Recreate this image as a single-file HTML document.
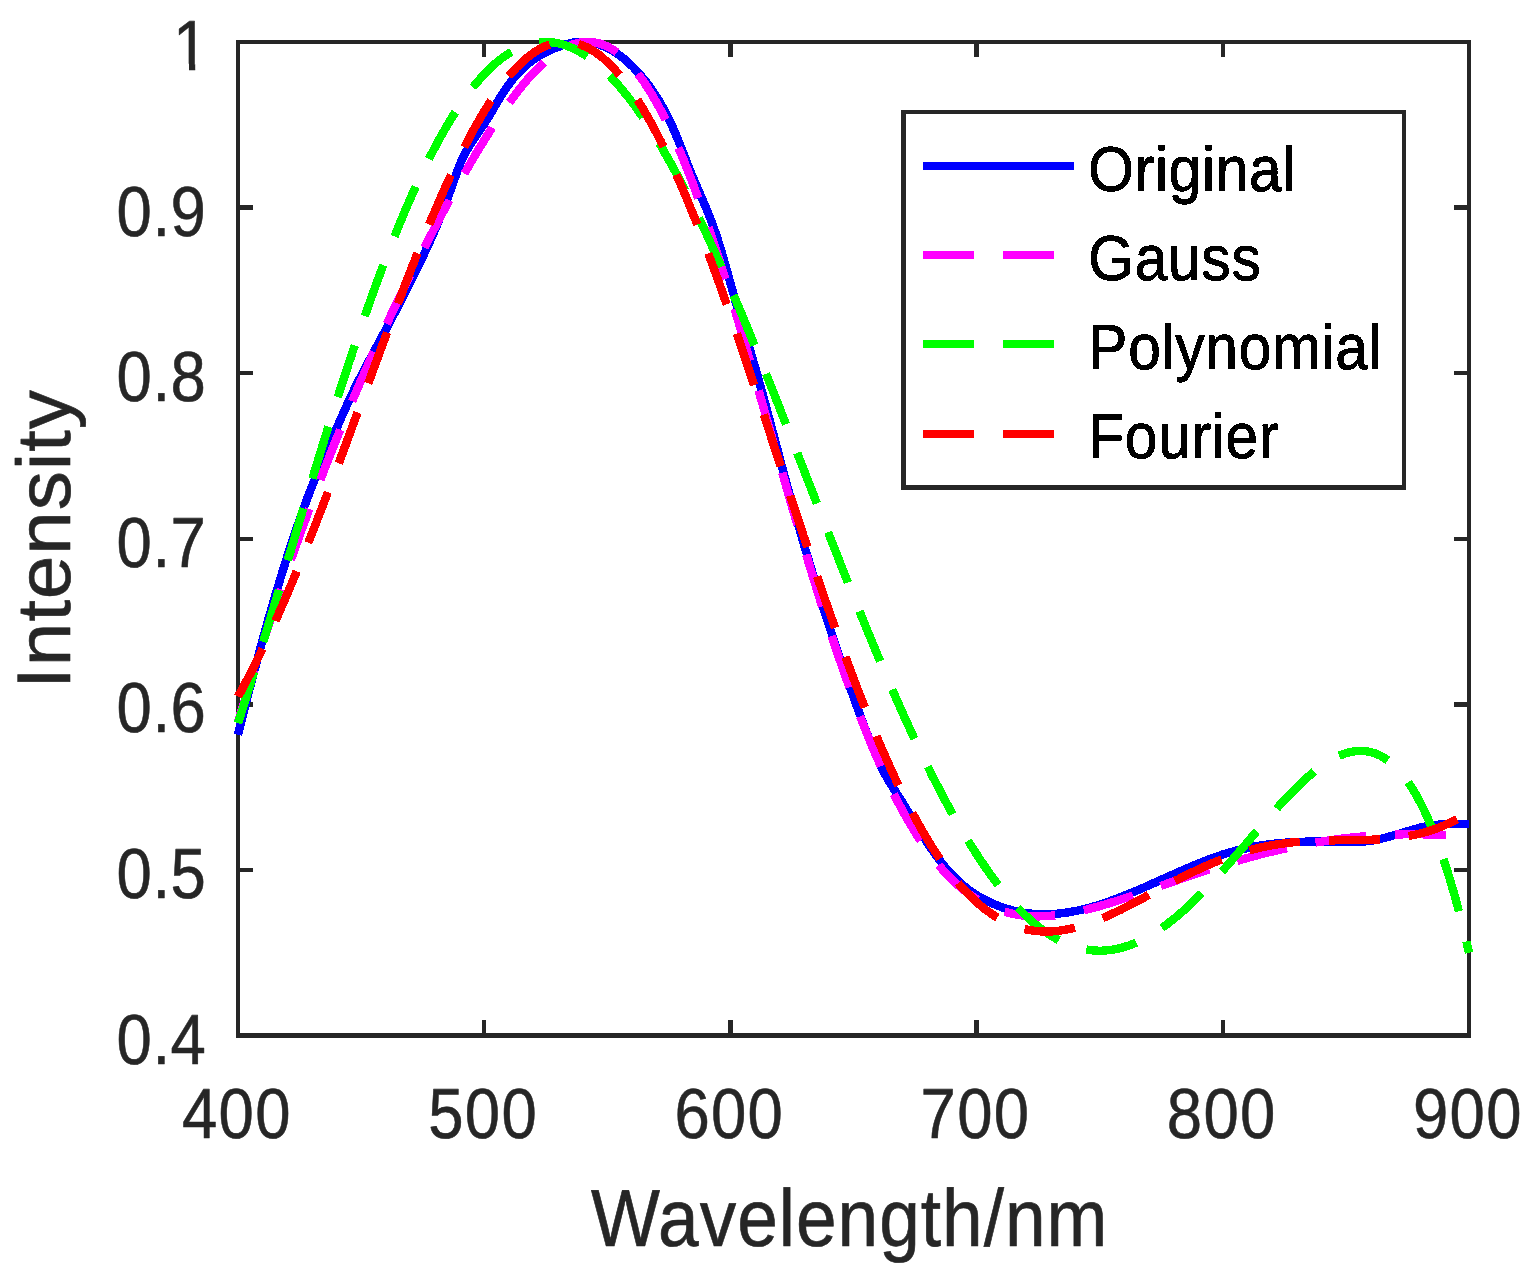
<!DOCTYPE html>
<html lang="en"><head><meta charset="utf-8"><title>Spectrum fitting comparison</title>
<style>html,body{margin:0;padding:0;background:#fff}body{width:1530px;height:1271px;overflow:hidden}svg{display:block}text{font-family:"Liberation Sans",sans-serif}</style>
</head><body>
<svg width="1530" height="1271" viewBox="0 0 1530 1271">
<rect width="1530" height="1271" fill="#fff"/>
<g fill="#262626" shape-rendering="crispEdges">
<rect x="236" y="40" width="1235" height="4"/>
<rect x="236" y="1033" width="1235" height="5"/>
<rect x="236" y="40" width="4" height="998"/>
<rect x="1467" y="40" width="4" height="998"/>
<rect x="482" y="44" width="4" height="13"/>
<rect x="482" y="1020" width="4" height="13"/>
<rect x="728" y="44" width="5" height="13"/>
<rect x="728" y="1020" width="5" height="13"/>
<rect x="974" y="44" width="5" height="13"/>
<rect x="974" y="1020" width="5" height="13"/>
<rect x="1221" y="44" width="4" height="13"/>
<rect x="1221" y="1020" width="4" height="13"/>
<rect x="240" y="205" width="13" height="5"/>
<rect x="1454" y="205" width="13" height="5"/>
<rect x="240" y="371" width="13" height="4"/>
<rect x="1454" y="371" width="13" height="4"/>
<rect x="240" y="537" width="13" height="4"/>
<rect x="1454" y="537" width="13" height="4"/>
<rect x="240" y="702" width="13" height="5"/>
<rect x="1454" y="702" width="13" height="5"/>
<rect x="240" y="868" width="13" height="4"/>
<rect x="1454" y="868" width="13" height="4"/>
</g>
<g stroke="none" shape-rendering="crispEdges">
<path fill="#0000ff" d="M242.1 735.7L242.6 733.8L243.0 731.8L243.5 729.9L244.0 728.0L244.5 726.0L245.0 724.1L245.5 722.1L245.9 720.2L246.4 718.3L246.9 716.3L247.4 714.4L247.9 712.5L248.4 710.5L248.9 708.6L249.4 706.6L249.9 704.7L250.3 702.8L250.8 700.8L251.3 698.9L251.8 697.0L252.3 695.0L252.8 693.1L253.3 691.2L253.8 689.2L254.3 687.3L254.8 685.4L255.3 683.4L255.8 681.5L256.3 679.6L256.9 677.6L257.4 675.7L257.9 673.8L258.4 671.8L258.9 669.9L259.4 668.0L259.9 666.1L260.4 664.1L260.9 662.2L261.5 660.3L262.0 658.3L262.5 656.4L263.0 654.5L263.5 652.6L264.1 650.6L264.6 648.7L265.1 646.8L265.6 644.8L266.2 642.9L266.7 641.0L267.2 639.1L267.8 637.1L268.3 635.2L268.8 633.3L269.4 631.4L269.9 629.5L270.4 627.5L271.0 625.6L271.5 623.7L272.1 621.8L272.6 619.8L273.2 617.9L273.7 616.0L274.3 614.1L274.8 612.2L275.4 610.2L275.9 608.3L276.5 606.4L277.0 604.5L277.6 602.6L278.1 600.7L278.7 598.8L279.3 596.8L279.8 594.9L280.4 593.0L281.0 591.1L281.5 589.2L282.1 587.3L282.7 585.4L283.3 583.5L283.9 581.5L284.4 579.6L285.0 577.7L285.6 575.8L286.2 573.9L286.8 572.0L287.4 570.1L288.0 568.2L288.6 566.3L289.2 564.4L289.8 562.5L290.4 560.6L291.0 558.7L291.6 556.8L292.2 554.9L292.8 553.0L293.4 551.1L294.0 549.2L294.6 547.3L295.3 545.4L295.9 543.5L296.5 541.6L297.1 539.7L297.8 537.8L298.4 536.0L299.1 534.1L299.7 532.2L300.3 530.3L301.0 528.4L301.6 526.5L302.3 524.6L302.9 522.8L303.6 520.9L304.3 519.0L304.9 517.1L305.6 515.2L306.3 513.4L307.0 511.5L307.6 509.6L308.3 507.8L309.0 505.9L309.7 504.0L310.4 502.2L311.1 500.3L311.8 498.4L312.5 496.6L313.2 494.7L313.9 492.9L314.6 491.0L315.4 489.2L316.1 487.3L316.8 485.5L317.6 483.6L318.3 481.8L319.1 479.9L319.8 478.1L320.6 476.2L321.3 474.4L322.1 472.5L322.8 470.7L323.6 468.9L324.4 467.0L325.2 465.2L325.9 463.4L326.7 461.5L327.5 459.7L328.3 457.9L329.1 456.0L329.9 454.2L330.7 452.4L331.5 450.5L332.3 448.7L333.1 446.9L333.9 445.1L334.7 443.2L335.5 441.4L336.3 439.6L337.1 437.7L337.9 435.9L338.7 434.1L339.5 432.3L340.3 430.4L341.1 428.6L341.9 426.8L342.7 424.9L343.5 423.1L344.3 421.3L345.1 419.4L345.9 417.6L346.7 415.8L347.5 413.9L348.4 412.1L349.2 410.3L350.0 408.5L350.8 406.7L351.6 404.9L352.4 403.1L353.2 401.3L354.1 399.5L354.9 397.7L355.8 395.9L356.6 394.1L357.5 392.3L358.4 390.5L359.3 388.7L360.1 386.9L361.0 385.2L361.9 383.4L362.8 381.6L363.7 379.9L364.6 378.1L365.6 376.3L366.5 374.6L367.4 372.8L368.3 371.0L369.3 369.3L370.2 367.5L371.1 365.8L372.1 364.0L373.0 362.2L374.0 360.5L374.9 358.7L375.9 357.0L376.8 355.2L377.8 353.5L378.7 351.7L379.7 349.9L380.6 348.2L381.6 346.4L382.5 344.6L383.5 342.9L384.4 341.1L385.4 339.4L386.3 337.6L387.3 335.8L388.2 334.1L389.1 332.3L390.1 330.5L391.0 328.8L391.9 327.0L392.9 325.2L393.8 323.4L394.8 321.7L395.7 319.9L396.6 318.1L397.5 316.3L398.5 314.6L399.4 312.8L400.3 311.0L401.2 309.2L402.2 307.5L403.1 305.7L404.0 303.9L404.9 302.1L405.8 300.3L406.7 298.6L407.7 296.8L408.6 295.0L409.5 293.2L410.4 291.4L411.3 289.6L412.2 287.8L413.1 286.0L414.0 284.3L414.9 282.5L415.8 280.7L416.7 278.9L417.6 277.1L418.5 275.3L419.4 273.5L420.2 271.7L421.1 269.9L422.0 268.1L422.9 266.3L423.8 264.5L424.6 262.7L425.5 260.9L426.4 259.0L427.2 257.2L428.1 255.4L428.9 253.6L429.8 251.8L430.6 249.9L431.5 248.1L432.3 246.3L433.1 244.5L433.9 242.6L434.8 240.8L435.6 238.9L436.4 237.1L437.2 235.3L438.0 233.4L438.8 231.6L439.6 229.7L440.4 227.9L441.1 226.0L441.9 224.2L442.7 222.3L443.5 220.4L444.2 218.6L445.0 216.7L445.7 214.9L446.5 213.0L447.2 211.1L447.9 209.2L448.7 207.4L449.4 205.5L450.1 203.6L450.8 201.7L451.5 199.8L452.2 198.0L452.9 196.1L453.6 194.2L454.3 192.3L455.0 190.4L455.7 188.5L456.3 186.6L457.0 184.7L457.7 182.8L458.3 180.9L459.0 179.1L459.7 177.2L460.3 175.3L461.0 173.4L461.7 171.6L462.3 169.7L463.0 167.9L463.8 166.1L464.5 164.3L465.2 162.5L466.0 160.8L466.8 159.0L467.7 157.3L468.6 155.6L469.5 154.0L470.5 152.3L471.5 150.6L472.5 149.0L473.5 147.3L474.6 145.6L475.7 144.0L476.8 142.4L477.9 140.7L479.0 139.1L480.1 137.4L481.2 135.8L482.3 134.1L483.5 132.5L484.6 130.8L485.7 129.1L486.9 127.5L488.0 125.8L489.1 124.1L490.2 122.3L491.2 120.6L492.3 118.9L493.4 117.2L494.4 115.4L495.4 113.7L496.4 112.0L497.5 110.2L498.5 108.5L499.5 106.8L500.5 105.1L501.5 103.4L502.5 101.7L503.5 100.0L504.6 98.3L505.6 96.6L506.7 95.0L507.7 93.4L508.8 91.7L509.9 90.1L511.0 88.5L512.2 87.0L513.4 85.4L514.5 83.9L515.7 82.4L517.0 80.9L518.2 79.4L519.5 77.9L520.8 76.5L522.1 75.1L523.4 73.7L524.8 72.4L526.2 71.0L527.6 69.7L529.0 68.5L530.5 67.2L532.0 66.0L533.5 64.8L535.0 63.7L536.6 62.6L538.1 61.5L539.7 60.5L541.4 59.5L543.0 58.5L544.7 57.5L546.3 56.6L548.1 55.8L549.8 54.9L551.5 54.1L553.3 53.3L555.1 52.6L556.9 51.9L558.7 51.2L560.5 50.5L562.3 49.8L564.1 49.2L566.0 48.7L567.8 48.1L569.6 47.6L571.4 47.2L573.2 46.9L575.1 46.6L576.9 46.3L578.8 46.2L580.6 46.1L582.4 46.0L584.3 46.1L586.1 46.2L587.9 46.4L589.8 46.6L591.6 46.9L593.4 47.3L595.2 47.8L597.0 48.3L598.7 48.8L600.5 49.5L602.2 50.2L603.9 50.9L605.6 51.7L607.3 52.6L609.0 53.5L610.6 54.4L612.2 55.4L613.8 56.4L615.4 57.5L616.9 58.6L618.5 59.8L620.0 61.0L621.5 62.2L622.9 63.4L624.4 64.7L625.8 66.0L627.2 67.3L628.6 68.6L630.0 70.0L631.4 71.4L632.7 72.8L634.0 74.2L635.4 75.6L636.7 77.1L637.9 78.6L639.2 80.1L640.4 81.6L641.7 83.1L642.9 84.6L644.1 86.1L645.3 87.7L646.4 89.3L647.6 90.9L648.7 92.5L649.8 94.1L650.9 95.7L651.9 97.3L653.0 99.0L654.0 100.6L655.0 102.3L656.1 104.0L657.0 105.7L658.0 107.4L659.0 109.1L659.9 110.8L660.8 112.5L661.8 114.3L662.7 116.0L663.6 117.8L664.4 119.5L665.3 121.3L666.1 123.1L667.0 124.9L667.8 126.7L668.6 128.5L669.4 130.3L670.2 132.1L671.0 133.9L671.8 135.7L672.5 137.5L673.3 139.4L674.0 141.2L674.8 143.0L675.5 144.9L676.2 146.7L677.0 148.6L677.7 150.4L678.4 152.3L679.2 154.2L679.9 156.0L680.6 157.9L681.3 159.7L682.1 161.6L682.8 163.5L683.5 165.3L684.3 167.2L685.0 169.1L685.8 170.9L686.5 172.8L687.3 174.7L688.1 176.5L688.8 178.4L689.6 180.2L690.4 182.1L691.2 183.9L692.0 185.8L692.8 187.6L693.6 189.5L694.4 191.3L695.2 193.1L696.0 195.0L696.7 196.8L697.5 198.6L698.3 200.5L699.1 202.3L699.9 204.1L700.7 206.0L701.4 207.8L702.2 209.6L702.9 211.5L703.7 213.3L704.4 215.1L705.2 217.0L705.9 218.8L706.6 220.7L707.3 222.5L708.0 224.4L708.7 226.2L709.4 228.1L710.1 230.0L710.7 231.8L711.4 233.7L712.0 235.6L712.7 237.4L713.3 239.3L713.9 241.2L714.5 243.1L715.1 245.0L715.7 246.8L716.3 248.7L716.9 250.6L717.5 252.5L718.0 254.4L718.6 256.3L719.1 258.3L719.7 260.2L720.2 262.1L720.8 264.0L721.3 265.9L721.8 267.8L722.4 269.8L722.9 271.7L723.4 273.6L723.9 275.5L724.5 277.5L725.0 279.4L725.5 281.3L726.1 283.3L726.6 285.2L727.1 287.1L727.7 289.1L728.2 291.0L728.8 292.9L729.3 294.8L729.9 296.8L730.4 298.7L731.0 300.6L731.5 302.6L732.1 304.5L732.6 306.4L733.2 308.3L733.8 310.2L734.3 312.2L734.9 314.1L735.5 316.0L736.0 317.9L736.6 319.8L737.2 321.8L737.7 323.7L738.3 325.6L738.9 327.5L739.5 329.4L740.0 331.4L740.6 333.3L741.2 335.2L741.8 337.1L742.3 339.0L742.9 340.9L743.5 342.8L744.1 344.8L744.6 346.7L745.2 348.6L745.8 350.5L746.3 352.4L746.9 354.3L747.5 356.2L748.0 358.2L748.6 360.1L749.2 362.0L749.7 363.9L750.3 365.8L750.8 367.7L751.4 369.6L751.9 371.6L752.5 373.5L753.0 375.4L753.6 377.3L754.1 379.2L754.7 381.2L755.2 383.1L755.7 385.0L756.3 386.9L756.8 388.8L757.3 390.8L757.9 392.7L758.4 394.6L758.9 396.5L759.5 398.5L760.0 400.4L760.5 402.3L761.0 404.3L761.5 406.2L762.1 408.1L762.6 410.0L763.1 412.0L763.6 413.9L764.1 415.8L764.6 417.8L765.2 419.7L765.7 421.6L766.2 423.6L766.7 425.5L767.2 427.4L767.7 429.3L768.2 431.3L768.8 433.2L769.3 435.1L769.8 437.1L770.3 439.0L770.8 440.9L771.3 442.9L771.8 444.8L772.4 446.7L772.9 448.7L773.4 450.6L773.9 452.5L774.4 454.5L774.9 456.4L775.4 458.3L776.0 460.3L776.5 462.2L777.0 464.1L777.5 466.1L778.0 468.0L778.6 469.9L779.1 471.9L779.6 473.8L780.1 475.7L780.7 477.7L781.2 479.6L781.7 481.5L782.2 483.5L782.8 485.4L783.3 487.3L783.8 489.2L784.4 491.2L784.9 493.1L785.4 495.0L786.0 497.0L786.5 498.9L787.1 500.8L787.6 502.7L788.1 504.7L788.7 506.6L789.2 508.5L789.8 510.5L790.3 512.4L790.9 514.3L791.4 516.2L792.0 518.2L792.5 520.1L793.1 522.0L793.6 523.9L794.2 525.9L794.7 527.8L795.3 529.7L795.8 531.6L796.4 533.5L796.9 535.5L797.5 537.4L798.1 539.3L798.6 541.2L799.2 543.2L799.8 545.1L800.3 547.0L800.9 548.9L801.5 550.8L802.0 552.8L802.6 554.7L803.2 556.6L803.7 558.5L804.3 560.4L804.9 562.3L805.5 564.3L806.1 566.2L806.6 568.1L807.2 570.0L807.8 571.9L808.4 573.8L809.0 575.8L809.6 577.7L810.1 579.6L810.7 581.5L811.3 583.4L811.9 585.3L812.5 587.2L813.1 589.2L813.7 591.1L814.3 593.0L814.9 594.9L815.5 596.8L816.1 598.7L816.7 600.6L817.3 602.5L817.9 604.4L818.5 606.3L819.1 608.3L819.7 610.2L820.3 612.1L820.9 614.0L821.5 615.9L822.2 617.8L822.8 619.7L823.4 621.6L824.0 623.5L824.6 625.4L825.2 627.3L825.9 629.2L826.5 631.1L827.1 633.0L827.7 634.9L828.4 636.8L829.0 638.7L829.6 640.6L830.3 642.5L830.9 644.4L831.5 646.3L832.2 648.2L832.8 650.1L833.4 652.0L834.1 653.9L834.7 655.8L835.4 657.7L836.0 659.6L836.7 661.5L837.3 663.4L838.0 665.3L838.6 667.2L839.3 669.1L839.9 671.0L840.6 672.9L841.2 674.8L841.9 676.7L842.5 678.5L843.2 680.4L843.9 682.3L844.5 684.2L845.2 686.1L845.9 688.0L846.5 689.9L847.2 691.8L847.9 693.7L848.6 695.5L849.2 697.4L849.9 699.3L850.6 701.2L851.3 703.1L851.9 705.0L852.6 706.9L853.3 708.7L854.0 710.6L854.7 712.5L855.4 714.4L856.1 716.3L856.8 718.1L857.5 720.0L858.2 721.9L858.9 723.8L859.6 725.7L860.3 727.5L861.0 729.4L861.7 731.3L862.4 733.2L863.1 735.0L863.9 736.9L864.6 738.8L865.3 740.7L866.1 742.5L866.8 744.4L867.6 746.3L868.4 748.1L869.1 750.0L869.9 751.8L870.7 753.7L871.5 755.6L872.3 757.4L873.1 759.3L873.9 761.1L874.8 762.9L875.6 764.8L876.5 766.6L877.4 768.5L878.2 770.3L879.2 772.1L880.1 773.9L881.0 775.7L882.0 777.5L883.0 779.3L884.0 781.1L885.1 782.9L886.1 784.7L887.2 786.4L888.3 788.1L889.4 789.8L890.5 791.5L891.5 793.2L892.6 794.8L893.7 796.5L894.8 798.2L895.8 799.9L896.9 801.5L897.9 803.2L899.0 804.9L900.0 806.6L901.1 808.3L902.1 810.0L903.1 811.7L904.2 813.4L905.2 815.1L906.3 816.8L907.3 818.5L908.3 820.3L909.4 822.0L910.4 823.7L911.5 825.4L912.5 827.1L913.6 828.8L914.6 830.5L915.7 832.2L916.8 833.9L917.8 835.6L918.9 837.3L920.0 839.0L921.1 840.7L922.1 842.4L923.2 844.1L924.4 845.8L925.5 847.5L926.6 849.2L927.7 850.8L928.9 852.5L930.0 854.2L931.2 855.8L932.4 857.5L933.6 859.1L934.8 860.8L936.0 862.4L937.2 864.0L938.5 865.6L939.8 867.2L941.1 868.8L942.4 870.4L943.7 871.9L945.1 873.5L946.5 875.0L947.8 876.5L949.3 878.0L950.7 879.5L952.1 880.9L953.6 882.3L955.1 883.8L956.6 885.2L958.2 886.5L959.7 887.9L961.3 889.2L962.9 890.5L964.6 891.8L966.2 893.0L967.9 894.2L969.6 895.4L971.3 896.6L973.0 897.8L974.7 898.9L976.5 899.9L978.3 901.0L980.1 902.0L981.9 903.0L983.7 904.0L985.6 904.9L987.4 905.8L989.3 906.7L991.2 907.5L993.1 908.3L995.0 909.1L996.9 909.8L998.9 910.6L1000.8 911.3L1002.8 911.9L1004.7 912.5L1006.7 913.1L1008.7 913.7L1010.7 914.2L1012.7 914.8L1014.7 915.2L1016.7 915.7L1018.8 916.1L1020.8 916.4L1022.8 916.8L1024.9 917.1L1026.9 917.4L1029.0 917.6L1031.0 917.8L1033.1 918.0L1035.1 918.2L1037.2 918.3L1039.3 918.4L1041.3 918.4L1043.4 918.5L1045.4 918.5L1047.5 918.4L1049.6 918.4L1051.6 918.3L1053.7 918.2L1055.7 918.0L1057.8 917.9L1059.8 917.7L1061.9 917.4L1063.9 917.2L1065.9 916.9L1067.9 916.6L1070.0 916.3L1072.0 915.9L1074.0 915.6L1076.0 915.2L1078.0 914.8L1080.0 914.3L1082.0 913.9L1084.0 913.4L1086.0 912.9L1087.9 912.4L1089.9 911.9L1091.9 911.4L1093.8 910.8L1095.8 910.2L1097.7 909.6L1099.7 909.0L1101.6 908.4L1103.5 907.8L1105.4 907.2L1107.4 906.5L1109.3 905.9L1111.2 905.2L1113.1 904.5L1115.0 903.8L1116.9 903.1L1118.8 902.4L1120.7 901.7L1122.5 900.9L1124.4 900.2L1126.3 899.4L1128.2 898.7L1130.0 897.9L1131.9 897.2L1133.7 896.4L1135.6 895.6L1137.5 894.8L1139.3 894.0L1141.2 893.3L1143.0 892.5L1144.8 891.7L1146.7 890.9L1148.5 890.0L1150.4 889.2L1152.2 888.4L1154.0 887.6L1155.8 886.8L1157.7 886.0L1159.5 885.2L1161.3 884.3L1163.2 883.5L1165.0 882.7L1166.8 881.9L1168.6 881.1L1170.5 880.3L1172.3 879.4L1174.1 878.6L1175.9 877.8L1177.7 877.0L1179.6 876.2L1181.4 875.4L1183.2 874.6L1185.0 873.8L1186.9 873.0L1188.7 872.2L1190.5 871.4L1192.3 870.6L1194.2 869.8L1196.0 869.1L1197.8 868.3L1199.7 867.6L1201.5 866.8L1203.3 866.1L1205.2 865.3L1207.0 864.6L1208.9 863.9L1210.7 863.2L1212.6 862.5L1214.4 861.8L1216.3 861.2L1218.1 860.5L1220.0 859.9L1221.9 859.2L1223.7 858.6L1225.6 858.0L1227.5 857.4L1229.4 856.9L1231.3 856.3L1233.1 855.8L1235.0 855.3L1236.9 854.8L1238.8 854.3L1240.7 853.8L1242.7 853.3L1244.6 852.9L1246.5 852.5L1248.4 852.1L1250.3 851.7L1252.3 851.3L1254.2 850.9L1256.1 850.5L1258.1 850.2L1260.0 849.9L1262.0 849.6L1263.9 849.3L1265.9 849.0L1267.8 848.7L1269.8 848.5L1271.7 848.2L1273.7 848.0L1275.6 847.8L1277.6 847.6L1279.6 847.4L1281.5 847.2L1283.5 847.0L1285.5 846.9L1287.4 846.7L1289.4 846.6L1291.4 846.4L1293.4 846.3L1295.3 846.2L1297.3 846.1L1299.3 846.0L1301.3 846.0L1303.2 845.9L1305.2 845.8L1307.2 845.8L1309.2 845.8L1311.2 845.7L1313.2 845.7L1315.1 845.7L1317.1 845.7L1319.1 845.7L1321.1 845.7L1323.1 845.7L1325.1 845.7L1327.1 845.7L1329.1 845.7L1331.1 845.7L1333.1 845.7L1335.1 845.8L1337.1 845.8L1339.1 845.8L1341.1 845.8L1343.1 845.8L1345.1 845.8L1347.1 845.9L1349.1 845.9L1351.1 845.9L1353.1 845.9L1355.1 845.9L1357.1 845.8L1359.2 845.8L1361.2 845.8L1363.3 845.7L1365.4 845.6L1367.5 845.4L1369.6 845.1L1371.7 844.9L1373.7 844.5L1375.8 844.2L1377.8 843.8L1379.8 843.4L1381.8 842.9L1383.8 842.4L1385.8 841.9L1387.8 841.4L1389.7 840.9L1391.7 840.3L1393.6 839.7L1395.6 839.2L1397.5 838.6L1399.4 838.0L1401.3 837.4L1403.2 836.8L1405.2 836.3L1407.1 835.7L1409.0 835.1L1410.9 834.5L1412.8 834.0L1414.6 833.5L1416.5 833.0L1418.4 832.5L1420.3 832.0L1422.2 831.5L1424.1 831.1L1426.0 830.7L1427.9 830.4L1429.8 830.0L1431.7 829.7L1433.6 829.5L1435.6 829.2L1437.5 829.0L1439.4 828.8L1441.4 828.6L1443.3 828.5L1445.3 828.4L1447.2 828.3L1449.2 828.2L1451.1 828.1L1453.1 828.1L1455.1 828.0L1457.0 828.0L1459.0 828.0L1461.0 828.0L1463.0 828.0L1464.9 828.1L1466.9 828.1L1468.9 828.1L1469.1 819.8L1467.1 819.7L1465.1 819.7L1463.1 819.6L1461.0 819.6L1459.0 819.6L1457.0 819.6L1455.0 819.6L1452.9 819.7L1450.9 819.7L1448.8 819.8L1446.8 819.9L1444.8 820.0L1442.7 820.1L1440.7 820.3L1438.6 820.4L1436.6 820.6L1434.6 820.9L1432.5 821.1L1430.5 821.4L1428.4 821.7L1426.4 822.1L1424.4 822.5L1422.3 822.9L1420.3 823.3L1418.3 823.8L1416.3 824.3L1414.4 824.8L1412.4 825.4L1410.4 825.9L1408.5 826.5L1406.6 827.1L1404.6 827.6L1402.7 828.2L1400.8 828.8L1398.9 829.4L1397.0 830.0L1395.1 830.6L1393.2 831.1L1391.3 831.7L1389.4 832.2L1387.5 832.8L1385.6 833.3L1383.7 833.8L1381.8 834.3L1379.9 834.7L1378.0 835.2L1376.1 835.6L1374.2 835.9L1372.3 836.3L1370.4 836.6L1368.6 836.8L1366.7 837.0L1364.8 837.2L1362.9 837.3L1361.0 837.4L1359.0 837.4L1357.1 837.5L1355.1 837.5L1353.1 837.5L1351.1 837.5L1349.1 837.5L1347.1 837.5L1345.1 837.4L1343.1 837.4L1341.1 837.4L1339.1 837.4L1337.1 837.4L1335.1 837.4L1333.1 837.3L1331.1 837.3L1329.1 837.3L1327.1 837.3L1325.1 837.3L1323.1 837.3L1321.1 837.3L1319.1 837.3L1317.1 837.3L1315.1 837.3L1313.1 837.3L1311.1 837.3L1309.0 837.4L1307.0 837.4L1305.0 837.5L1303.0 837.5L1301.0 837.6L1298.9 837.7L1296.9 837.7L1294.9 837.8L1292.9 837.9L1290.9 838.1L1288.9 838.2L1286.8 838.3L1284.8 838.5L1282.8 838.6L1280.8 838.8L1278.8 839.0L1276.8 839.2L1274.7 839.4L1272.7 839.6L1270.7 839.9L1268.7 840.1L1266.7 840.4L1264.7 840.7L1262.7 841.0L1260.7 841.3L1258.7 841.6L1256.7 841.9L1254.7 842.3L1252.7 842.6L1250.7 843.0L1248.7 843.4L1246.7 843.8L1244.7 844.3L1242.7 844.7L1240.7 845.2L1238.8 845.6L1236.8 846.1L1234.8 846.6L1232.8 847.2L1230.9 847.7L1228.9 848.3L1227.0 848.8L1225.0 849.4L1223.1 850.0L1221.1 850.6L1219.2 851.3L1217.3 851.9L1215.4 852.6L1213.5 853.3L1211.6 853.9L1209.7 854.6L1207.8 855.3L1205.9 856.1L1204.0 856.8L1202.1 857.5L1200.2 858.3L1198.4 859.0L1196.5 859.8L1194.6 860.6L1192.8 861.3L1190.9 862.1L1189.1 862.9L1187.2 863.7L1185.4 864.5L1183.5 865.3L1181.7 866.1L1179.8 866.9L1178.0 867.7L1176.2 868.5L1174.3 869.3L1172.5 870.1L1170.7 870.9L1168.8 871.8L1167.0 872.6L1165.2 873.4L1163.4 874.2L1161.5 875.0L1159.7 875.9L1157.9 876.7L1156.1 877.5L1154.3 878.3L1152.4 879.1L1150.6 879.9L1148.8 880.7L1147.0 881.6L1145.1 882.4L1143.3 883.2L1141.5 884.0L1139.7 884.7L1137.8 885.5L1136.0 886.3L1134.2 887.1L1132.3 887.9L1130.5 888.6L1128.7 889.4L1126.8 890.2L1125.0 890.9L1123.2 891.6L1121.3 892.4L1119.5 893.1L1117.6 893.8L1115.8 894.5L1113.9 895.2L1112.1 895.9L1110.2 896.6L1108.4 897.3L1106.5 897.9L1104.6 898.6L1102.8 899.2L1100.9 899.8L1099.0 900.4L1097.1 901.0L1095.3 901.6L1093.4 902.2L1091.5 902.7L1089.6 903.3L1087.7 903.8L1085.8 904.3L1083.9 904.8L1082.0 905.3L1080.1 905.7L1078.2 906.1L1076.3 906.6L1074.4 906.9L1072.4 907.3L1070.5 907.7L1068.6 908.0L1066.7 908.3L1064.7 908.6L1062.8 908.9L1060.9 909.1L1058.9 909.3L1057.0 909.5L1055.1 909.7L1053.1 909.8L1051.2 909.9L1049.3 910.0L1047.3 910.0L1045.4 910.1L1043.4 910.1L1041.5 910.0L1039.6 910.0L1037.6 909.9L1035.7 909.8L1033.8 909.7L1031.8 909.5L1029.9 909.3L1028.0 909.1L1026.1 908.8L1024.2 908.5L1022.3 908.2L1020.4 907.8L1018.5 907.4L1016.6 907.0L1014.7 906.6L1012.8 906.1L1011.0 905.6L1009.1 905.1L1007.2 904.5L1005.4 903.9L1003.6 903.3L1001.8 902.7L999.9 902.0L998.1 901.3L996.3 900.6L994.6 899.8L992.8 899.0L991.0 898.2L989.3 897.4L987.6 896.5L985.9 895.6L984.2 894.7L982.5 893.7L980.8 892.7L979.2 891.7L977.6 890.7L976.0 889.6L974.4 888.6L972.8 887.4L971.2 886.3L969.7 885.1L968.2 883.9L966.7 882.7L965.2 881.5L963.7 880.2L962.3 878.9L960.8 877.6L959.4 876.3L958.0 874.9L956.7 873.6L955.3 872.2L954.0 870.7L952.7 869.3L951.3 867.9L950.1 866.4L948.8 864.9L947.5 863.4L946.3 861.9L945.1 860.4L943.9 858.9L942.7 857.3L941.5 855.7L940.3 854.2L939.2 852.6L938.0 851.0L936.9 849.4L935.8 847.7L934.7 846.1L933.6 844.5L932.5 842.8L931.4 841.2L930.3 839.5L929.2 837.9L928.1 836.2L927.1 834.5L926.0 832.8L924.9 831.2L923.9 829.5L922.8 827.8L921.8 826.1L920.7 824.4L919.7 822.7L918.6 821.0L917.6 819.3L916.6 817.6L915.5 815.9L914.5 814.2L913.4 812.5L912.4 810.8L911.4 809.1L910.3 807.3L909.3 805.6L908.2 803.9L907.2 802.2L906.1 800.5L905.1 798.8L904.0 797.1L902.9 795.4L901.9 793.7L900.8 792.0L899.7 790.3L898.6 788.6L897.5 786.9L896.4 785.2L895.4 783.6L894.3 781.9L893.3 780.3L892.3 778.6L891.3 776.9L890.3 775.2L889.4 773.5L888.5 771.8L887.5 770.1L886.7 768.3L885.8 766.6L884.9 764.8L884.1 763.0L883.2 761.2L882.4 759.5L881.6 757.7L880.8 755.9L880.0 754.0L879.2 752.2L878.4 750.4L877.6 748.6L876.9 746.8L876.1 744.9L875.4 743.1L874.6 741.2L873.9 739.4L873.2 737.6L872.4 735.7L871.7 733.9L871.0 732.0L870.3 730.1L869.5 728.3L868.8 726.4L868.1 724.6L867.4 722.7L866.7 720.8L866.0 719.0L865.3 717.1L864.6 715.2L864.0 713.4L863.3 711.5L862.6 709.6L861.9 707.7L861.2 705.9L860.5 704.0L859.8 702.1L859.2 700.2L858.5 698.4L857.8 696.5L857.1 694.6L856.5 692.7L855.8 690.8L855.1 689.0L854.5 687.1L853.8 685.2L853.1 683.3L852.5 681.4L851.8 679.5L851.1 677.7L850.5 675.8L849.8 673.9L849.2 672.0L848.5 670.1L847.9 668.2L847.2 666.3L846.6 664.5L845.9 662.6L845.3 660.7L844.6 658.8L844.0 656.9L843.3 655.0L842.7 653.1L842.0 651.2L841.4 649.3L840.8 647.5L840.1 645.6L839.5 643.7L838.9 641.8L838.2 639.9L837.6 638.0L837.0 636.1L836.3 634.2L835.7 632.3L835.1 630.4L834.5 628.5L833.9 626.6L833.2 624.7L832.6 622.8L832.0 620.9L831.4 619.0L830.8 617.1L830.2 615.2L829.5 613.3L828.9 611.4L828.3 609.5L827.7 607.6L827.1 605.7L826.5 603.8L825.9 601.9L825.3 600.0L824.7 598.1L824.1 596.2L823.5 594.3L822.9 592.4L822.3 590.5L821.7 588.6L821.1 586.7L820.5 584.8L819.9 582.8L819.3 580.9L818.8 579.0L818.2 577.1L817.6 575.2L817.0 573.3L816.4 571.4L815.8 569.5L815.3 567.6L814.7 565.7L814.1 563.8L813.5 561.8L812.9 559.9L812.4 558.0L811.8 556.1L811.2 554.2L810.7 552.3L810.1 550.4L809.5 548.5L808.9 546.5L808.4 544.6L807.8 542.7L807.3 540.8L806.7 538.9L806.1 537.0L805.6 535.0L805.0 533.1L804.5 531.2L803.9 529.3L803.3 527.4L802.8 525.5L802.2 523.5L801.7 521.6L801.1 519.7L800.6 517.8L800.0 515.9L799.5 513.9L798.9 512.0L798.4 510.1L797.8 508.2L797.3 506.2L796.8 504.3L796.2 502.4L795.7 500.5L795.1 498.6L794.6 496.6L794.1 494.7L793.5 492.8L793.0 490.9L792.5 488.9L791.9 487.0L791.4 485.1L790.9 483.2L790.3 481.2L789.8 479.3L789.3 477.4L788.8 475.5L788.2 473.5L787.7 471.6L787.2 469.7L786.7 467.7L786.2 465.8L785.6 463.9L785.1 462.0L784.6 460.0L784.1 458.1L783.6 456.2L783.0 454.2L782.5 452.3L782.0 450.4L781.5 448.4L781.0 446.5L780.5 444.6L780.0 442.7L779.4 440.7L778.9 438.8L778.4 436.9L777.9 434.9L777.4 433.0L776.9 431.1L776.4 429.1L775.9 427.2L775.3 425.3L774.8 423.3L774.3 421.4L773.8 419.5L773.3 417.5L772.8 415.6L772.2 413.7L771.7 411.7L771.2 409.8L770.7 407.9L770.2 405.9L769.7 404.0L769.1 402.1L768.6 400.1L768.1 398.2L767.6 396.3L767.0 394.3L766.5 392.4L766.0 390.5L765.4 388.5L764.9 386.6L764.4 384.7L763.8 382.7L763.3 380.8L762.8 378.9L762.2 377.0L761.7 375.0L761.1 373.1L760.6 371.2L760.0 369.2L759.5 367.3L758.9 365.4L758.4 363.5L757.8 361.5L757.2 359.6L756.7 357.7L756.1 355.8L755.5 353.9L755.0 351.9L754.4 350.0L753.8 348.1L753.3 346.2L752.7 344.3L752.1 342.3L751.5 340.4L751.0 338.5L750.4 336.6L749.8 334.7L749.2 332.8L748.7 330.9L748.1 328.9L747.5 327.0L746.9 325.1L746.4 323.2L745.8 321.3L745.2 319.4L744.7 317.5L744.1 315.5L743.5 313.6L742.9 311.7L742.4 309.8L741.8 307.9L741.3 306.0L740.7 304.0L740.1 302.1L739.6 300.2L739.0 298.3L738.5 296.4L737.9 294.5L737.4 292.5L736.8 290.6L736.3 288.7L735.8 286.8L735.2 284.9L734.7 282.9L734.2 281.0L733.6 279.1L733.1 277.2L732.6 275.2L732.0 273.3L731.5 271.4L731.0 269.5L730.5 267.5L729.9 265.6L729.4 263.7L728.8 261.7L728.3 259.8L727.7 257.9L727.2 255.9L726.6 254.0L726.1 252.1L725.5 250.1L724.9 248.2L724.3 246.3L723.7 244.3L723.1 242.4L722.5 240.5L721.9 238.6L721.3 236.7L720.6 234.7L720.0 232.8L719.3 230.9L718.6 229.0L718.0 227.1L717.3 225.2L716.6 223.3L715.9 221.4L715.2 219.5L714.4 217.7L713.7 215.8L713.0 213.9L712.2 212.0L711.5 210.2L710.7 208.3L710.0 206.4L709.2 204.6L708.4 202.7L707.6 200.9L706.8 199.0L706.0 197.2L705.3 195.3L704.5 193.5L703.7 191.6L702.9 189.8L702.1 188.0L701.3 186.1L700.5 184.3L699.7 182.5L698.9 180.6L698.1 178.8L697.4 177.0L696.6 175.1L695.8 173.3L695.1 171.5L694.3 169.6L693.6 167.8L692.8 166.0L692.1 164.1L691.4 162.3L690.6 160.4L689.9 158.5L689.2 156.7L688.4 154.8L687.7 153.0L687.0 151.1L686.3 149.2L685.5 147.4L684.8 145.5L684.1 143.6L683.3 141.8L682.6 139.9L681.8 138.0L681.0 136.2L680.3 134.3L679.5 132.4L678.7 130.6L677.9 128.7L677.1 126.9L676.3 125.0L675.4 123.2L674.6 121.3L673.7 119.5L672.9 117.7L672.0 115.8L671.1 114.0L670.1 112.2L669.2 110.4L668.3 108.6L667.3 106.8L666.3 105.0L665.3 103.2L664.3 101.5L663.3 99.7L662.2 98.0L661.2 96.2L660.1 94.5L659.0 92.8L657.9 91.1L656.7 89.4L655.6 87.7L654.4 86.0L653.2 84.3L652.0 82.7L650.8 81.0L649.5 79.4L648.2 77.8L646.9 76.2L645.6 74.7L644.3 73.1L643.0 71.5L641.6 70.0L640.2 68.5L638.8 67.0L637.4 65.5L636.0 64.1L634.5 62.6L633.0 61.2L631.5 59.8L630.0 58.4L628.4 57.0L626.8 55.7L625.2 54.4L623.6 53.1L621.9 51.8L620.2 50.6L618.5 49.4L616.7 48.3L614.9 47.2L613.1 46.1L611.2 45.1L609.3 44.2L607.4 43.3L605.5 42.4L603.5 41.6L601.5 40.9L599.4 40.2L597.4 39.6L595.3 39.1L593.2 38.7L591.1 38.3L588.9 38.0L586.8 37.8L584.6 37.7L582.5 37.6L580.3 37.7L578.2 37.8L576.0 38.0L573.9 38.2L571.8 38.6L569.7 39.0L567.6 39.5L565.5 40.0L563.5 40.6L561.5 41.2L559.6 41.9L557.6 42.6L555.7 43.3L553.8 44.0L551.9 44.8L550.0 45.6L548.1 46.5L546.2 47.3L544.3 48.2L542.4 49.2L540.6 50.2L538.8 51.2L537.0 52.3L535.2 53.4L533.5 54.5L531.7 55.7L530.0 56.9L528.4 58.2L526.7 59.4L525.1 60.8L523.5 62.1L522.0 63.5L520.4 64.9L518.9 66.4L517.5 67.8L516.0 69.3L514.6 70.8L513.2 72.4L511.9 73.9L510.5 75.5L509.2 77.1L507.9 78.7L506.7 80.3L505.4 82.0L504.2 83.6L503.0 85.3L501.9 87.0L500.7 88.7L499.6 90.4L498.5 92.1L497.4 93.9L496.4 95.6L495.3 97.3L494.3 99.1L493.2 100.8L492.2 102.5L491.2 104.3L490.2 106.0L489.2 107.7L488.2 109.4L487.2 111.1L486.2 112.8L485.1 114.5L484.1 116.2L483.1 117.9L482.0 119.5L480.9 121.2L479.9 122.8L478.8 124.5L477.6 126.1L476.5 127.7L475.4 129.4L474.3 131.0L473.1 132.7L472.0 134.3L470.9 136.0L469.8 137.7L468.6 139.4L467.5 141.1L466.4 142.8L465.4 144.5L464.3 146.3L463.2 148.0L462.2 149.8L461.2 151.7L460.2 153.5L459.3 155.4L458.4 157.3L457.5 159.2L456.7 161.1L456.0 163.0L455.2 164.9L454.5 166.8L453.8 168.7L453.1 170.6L452.4 172.5L451.7 174.4L451.1 176.3L450.4 178.2L449.7 180.1L449.1 181.9L448.4 183.8L447.8 185.7L447.1 187.6L446.4 189.4L445.7 191.3L445.0 193.2L444.4 195.0L443.7 196.9L443.0 198.8L442.3 200.6L441.5 202.5L440.8 204.3L440.1 206.2L439.4 208.0L438.7 209.9L437.9 211.7L437.2 213.6L436.4 215.4L435.7 217.3L434.9 219.1L434.2 220.9L433.4 222.8L432.6 224.6L431.9 226.4L431.1 228.3L430.3 230.1L429.5 231.9L428.7 233.7L427.9 235.5L427.1 237.4L426.3 239.2L425.5 241.0L424.6 242.8L423.8 244.6L423.0 246.4L422.2 248.2L421.3 250.0L420.5 251.8L419.6 253.6L418.8 255.4L417.9 257.2L417.1 259.0L416.2 260.8L415.3 262.6L414.5 264.4L413.6 266.2L412.7 268.0L411.8 269.8L410.9 271.6L410.1 273.4L409.2 275.1L408.3 276.9L407.4 278.7L406.5 280.5L405.6 282.3L404.7 284.1L403.8 285.8L402.9 287.6L402.0 289.4L401.1 291.2L400.2 293.0L399.3 294.7L398.4 296.5L397.5 298.3L396.5 300.1L395.6 301.8L394.7 303.6L393.8 305.4L392.9 307.1L391.9 308.9L391.0 310.7L390.1 312.5L389.2 314.2L388.2 316.0L387.3 317.8L386.4 319.5L385.5 321.3L384.5 323.1L383.6 324.8L382.7 326.6L381.7 328.3L380.8 330.1L379.8 331.9L378.9 333.6L378.0 335.4L377.0 337.2L376.1 338.9L375.1 340.7L374.2 342.4L373.2 344.2L372.3 345.9L371.3 347.7L370.4 349.5L369.4 351.2L368.5 353.0L367.5 354.7L366.6 356.5L365.6 358.3L364.7 360.0L363.7 361.8L362.8 363.6L361.8 365.3L360.9 367.1L360.0 368.9L359.0 370.7L358.1 372.4L357.2 374.2L356.3 376.0L355.3 377.8L354.4 379.6L353.5 381.4L352.6 383.2L351.7 385.0L350.8 386.8L350.0 388.6L349.1 390.4L348.2 392.2L347.3 394.1L346.5 395.9L345.6 397.7L344.8 399.5L343.9 401.4L343.1 403.2L342.3 405.1L341.5 406.9L340.7 408.7L339.9 410.6L339.1 412.4L338.3 414.2L337.5 416.1L336.6 417.9L335.8 419.7L335.0 421.5L334.2 423.4L333.4 425.2L332.6 427.0L331.8 428.9L331.0 430.7L330.2 432.5L329.4 434.3L328.6 436.2L327.8 438.0L327.0 439.8L326.2 441.7L325.4 443.5L324.6 445.3L323.8 447.2L323.0 449.0L322.2 450.9L321.4 452.7L320.6 454.5L319.8 456.4L319.0 458.2L318.2 460.1L317.4 461.9L316.6 463.8L315.9 465.6L315.1 467.5L314.3 469.3L313.6 471.2L312.8 473.0L312.0 474.9L311.3 476.8L310.5 478.6L309.8 480.5L309.0 482.3L308.3 484.2L307.6 486.1L306.8 488.0L306.1 489.8L305.4 491.7L304.7 493.6L303.9 495.5L303.2 497.3L302.5 499.2L301.8 501.1L301.1 503.0L300.4 504.9L299.7 506.8L299.1 508.6L298.4 510.5L297.7 512.4L297.0 514.3L296.3 516.2L295.7 518.1L295.0 520.0L294.4 521.9L293.7 523.8L293.0 525.7L292.4 527.6L291.7 529.5L291.1 531.4L290.5 533.3L289.8 535.2L289.2 537.1L288.5 539.0L287.9 540.9L287.3 542.8L286.7 544.7L286.0 546.6L285.4 548.5L284.8 550.4L284.2 552.3L283.6 554.2L283.0 556.1L282.4 558.0L281.7 560.0L281.1 561.9L280.5 563.8L279.9 565.7L279.3 567.6L278.8 569.5L278.2 571.4L277.6 573.4L277.0 575.3L276.4 577.2L275.8 579.1L275.2 581.0L274.7 582.9L274.1 584.9L273.5 586.8L272.9 588.7L272.4 590.6L271.8 592.5L271.2 594.5L270.7 596.4L270.1 598.3L269.5 600.2L269.0 602.1L268.4 604.1L267.8 606.0L267.3 607.9L266.7 609.8L266.2 611.8L265.6 613.7L265.1 615.6L264.5 617.5L264.0 619.5L263.4 621.4L262.9 623.3L262.4 625.3L261.8 627.2L261.3 629.1L260.7 631.0L260.2 633.0L259.7 634.9L259.1 636.8L258.6 638.8L258.1 640.7L257.5 642.6L257.0 644.6L256.5 646.5L256.0 648.4L255.4 650.4L254.9 652.3L254.4 654.2L253.9 656.2L253.4 658.1L252.8 660.0L252.3 662.0L251.8 663.9L251.3 665.8L250.8 667.8L250.3 669.7L249.7 671.6L249.2 673.6L248.7 675.5L248.2 677.4L247.7 679.4L247.2 681.3L246.7 683.2L246.2 685.2L245.7 687.1L245.2 689.1L244.7 691.0L244.2 692.9L243.7 694.9L243.2 696.8L242.7 698.8L242.2 700.7L241.7 702.6L241.2 704.6L240.7 706.5L240.2 708.5L239.7 710.4L239.3 712.3L238.8 714.3L238.3 716.2L237.8 718.2L237.3 720.1L236.8 722.0L236.3 724.0L235.9 725.9L235.4 727.9L234.9 729.8L234.4 731.8L233.9 733.7Z"/>
<path fill="#ff00ff" d="M242.0 723.0L242.6 721.2L243.2 719.3L243.7 717.5L244.3 715.6L244.9 713.8L245.4 711.9L246.0 710.1L246.6 708.3L247.2 706.4L247.7 704.6L248.3 702.7L248.9 700.9L249.5 699.0L250.0 697.2L250.6 695.4L251.2 693.5L251.8 691.7L252.3 689.8L252.9 688.0L253.5 686.2L254.1 684.3L254.7 682.5L255.2 680.6L255.8 678.8L256.4 677.0L257.0 675.1L257.6 673.3L258.2 671.4L250.2 668.9L249.6 670.7L249.0 672.6L248.4 674.4L247.8 676.3L247.2 678.1L246.7 679.9L246.1 681.8L245.5 683.6L244.9 685.5L244.3 687.3L243.8 689.2L243.2 691.0L242.6 692.8L242.0 694.7L241.4 696.5L240.9 698.4L240.3 700.2L239.7 702.1L239.1 703.9L238.6 705.8L238.0 707.6L237.4 709.4L236.8 711.3L236.3 713.1L235.7 715.0L235.1 716.8L234.6 718.7L234.0 720.5ZM267.7 642.0L268.3 640.1L268.9 638.3L269.5 636.5L270.1 634.6L270.7 632.8L271.3 630.9L271.9 629.1L272.5 627.3L273.1 625.4L273.7 623.6L274.3 621.7L274.9 619.9L275.5 618.1L276.1 616.2L276.8 614.4L277.4 612.5L278.0 610.7L278.6 608.9L279.2 607.0L279.8 605.2L280.4 603.4L281.1 601.5L281.7 599.7L282.3 597.9L282.9 596.0L283.5 594.2L284.2 592.4L284.8 590.5L276.8 587.8L276.2 589.7L275.6 591.5L275.0 593.3L274.3 595.2L273.7 597.0L273.1 598.8L272.5 600.7L271.9 602.5L271.2 604.4L270.6 606.2L270.0 608.0L269.4 609.9L268.8 611.7L268.2 613.6L267.6 615.4L266.9 617.3L266.3 619.1L265.7 620.9L265.1 622.8L264.5 624.6L263.9 626.5L263.3 628.3L262.7 630.2L262.1 632.0L261.5 633.8L260.9 635.7L260.3 637.5L259.7 639.4ZM294.9 561.3L295.5 559.5L296.2 557.7L296.8 555.8L297.5 554.0L298.1 552.2L298.8 550.4L299.4 548.5L300.1 546.7L300.7 544.9L301.4 543.1L302.0 541.3L302.7 539.4L303.3 537.6L304.0 535.8L304.6 534.0L305.3 532.2L305.9 530.3L306.6 528.5L307.3 526.7L307.9 524.9L308.6 523.1L309.3 521.3L309.9 519.4L310.6 517.6L311.3 515.8L311.9 514.0L312.6 512.2L313.3 510.4L305.4 507.4L304.7 509.3L304.1 511.1L303.4 512.9L302.7 514.7L302.0 516.5L301.4 518.4L300.7 520.2L300.0 522.0L299.4 523.8L298.7 525.6L298.0 527.5L297.4 529.3L296.7 531.1L296.1 532.9L295.4 534.8L294.8 536.6L294.1 538.4L293.4 540.2L292.8 542.1L292.1 543.9L291.5 545.7L290.8 547.5L290.2 549.4L289.5 551.2L288.9 553.0L288.3 554.9L287.6 556.7L287.0 558.5ZM324.2 481.5L324.9 479.7L325.6 477.9L326.3 476.1L327.0 474.3L327.7 472.5L328.4 470.7L329.1 468.9L329.8 467.1L330.5 465.3L331.2 463.5L331.9 461.7L332.6 459.9L333.3 458.1L334.0 456.3L334.7 454.5L335.5 452.7L336.2 450.9L336.9 449.2L337.6 447.4L338.3 445.6L339.0 443.8L339.8 442.0L340.5 440.2L341.2 438.4L341.9 436.6L342.7 434.8L343.4 433.1L344.1 431.3L336.4 428.1L335.6 429.9L334.9 431.7L334.2 433.5L333.4 435.2L332.7 437.0L332.0 438.8L331.3 440.6L330.5 442.4L329.8 444.2L329.1 446.0L328.4 447.8L327.6 449.6L326.9 451.4L326.2 453.2L325.5 455.0L324.8 456.8L324.1 458.6L323.4 460.4L322.7 462.2L322.0 464.0L321.2 465.8L320.5 467.6L319.8 469.4L319.1 471.3L318.4 473.1L317.7 474.9L317.0 476.7L316.3 478.5ZM356.0 402.8L356.8 401.1L357.5 399.3L358.3 397.5L359.0 395.8L359.8 394.0L360.6 392.2L361.3 390.5L362.1 388.7L362.9 386.9L363.6 385.2L364.4 383.4L365.2 381.6L366.0 379.9L366.7 378.1L367.5 376.3L368.3 374.6L369.1 372.8L369.8 371.0L370.6 369.3L371.4 367.5L372.2 365.8L373.0 364.0L373.8 362.2L374.6 360.5L375.4 358.7L376.1 357.0L376.9 355.2L377.7 353.5L370.1 350.0L369.3 351.8L368.5 353.5L367.7 355.3L366.9 357.0L366.1 358.8L365.3 360.6L364.5 362.3L363.7 364.1L363.0 365.9L362.2 367.6L361.4 369.4L360.6 371.2L359.8 372.9L359.0 374.7L358.3 376.5L357.5 378.3L356.7 380.0L355.9 381.8L355.2 383.6L354.4 385.3L353.6 387.1L352.9 388.9L352.1 390.7L351.3 392.4L350.6 394.2L349.8 396.0L349.0 397.8L348.3 399.6ZM390.6 325.6L391.5 323.8L392.3 322.0L393.2 320.2L394.0 318.4L394.9 316.6L395.8 314.8L396.6 313.0L397.5 311.2L398.3 309.4L399.2 307.6L400.1 305.8L400.9 304.0L401.8 302.2L402.7 300.4L403.5 298.6L404.4 296.8L405.3 295.0L406.2 293.2L407.0 291.4L407.9 289.6L408.8 287.8L409.7 286.0L410.6 284.3L411.4 282.5L412.3 280.7L413.2 278.9L414.1 277.1L406.6 273.4L405.7 275.2L404.8 277.0L403.9 278.7L403.0 280.5L402.1 282.3L401.3 284.1L400.4 285.9L399.5 287.7L398.6 289.5L397.7 291.3L396.9 293.1L396.0 294.9L395.1 296.7L394.2 298.5L393.4 300.3L392.5 302.1L391.6 303.9L390.8 305.7L389.9 307.5L389.0 309.3L388.2 311.1L387.3 312.9L386.5 314.8L385.6 316.6L384.7 318.4L383.9 320.2L383.0 322.0ZM428.0 249.7L428.9 248.0L429.8 246.2L430.7 244.4L431.6 242.7L432.5 240.9L433.5 239.1L434.4 237.4L435.3 235.6L436.2 233.9L437.1 232.1L438.1 230.3L439.0 228.6L439.9 226.8L440.9 225.1L441.8 223.3L442.7 221.6L443.7 219.8L444.6 218.0L445.5 216.3L446.5 214.5L447.4 212.8L448.4 211.0L449.3 209.3L450.3 207.5L451.2 205.8L452.2 204.0L453.1 202.3L445.8 198.3L444.8 200.0L443.9 201.8L442.9 203.5L441.9 205.3L441.0 207.0L440.0 208.8L439.1 210.6L438.1 212.3L437.2 214.1L436.3 215.8L435.3 217.6L434.4 219.4L433.4 221.1L432.5 222.9L431.6 224.7L430.6 226.4L429.7 228.2L428.8 230.0L427.9 231.7L426.9 233.5L426.0 235.3L425.1 237.0L424.2 238.8L423.2 240.6L422.3 242.4L421.4 244.1L420.5 245.9ZM468.1 175.6L469.1 173.9L470.0 172.2L471.0 170.5L472.0 168.8L473.0 167.1L474.0 165.3L475.0 163.6L476.0 161.9L477.0 160.2L478.1 158.5L479.1 156.8L480.1 155.1L481.1 153.4L482.1 151.7L483.1 150.1L484.2 148.4L485.2 146.7L486.2 145.0L487.3 143.3L488.3 141.6L489.4 140.0L490.4 138.3L491.5 136.6L492.5 134.9L493.6 133.3L494.7 131.6L495.7 129.9L488.7 125.4L487.6 127.1L486.5 128.8L485.4 130.4L484.4 132.1L483.3 133.8L482.2 135.5L481.2 137.2L480.1 138.9L479.1 140.6L478.0 142.3L477.0 144.0L476.0 145.7L474.9 147.4L473.9 149.1L472.9 150.8L471.9 152.5L470.8 154.2L469.8 156.0L468.8 157.7L467.8 159.4L466.8 161.1L465.8 162.8L464.8 164.5L463.8 166.3L462.8 168.0L461.8 169.7L460.8 171.4ZM512.8 105.0L513.9 103.4L515.1 101.8L516.2 100.3L517.4 98.7L518.6 97.2L519.8 95.6L521.0 94.1L522.2 92.6L523.4 91.1L524.6 89.5L525.8 88.0L527.0 86.6L528.3 85.1L529.5 83.6L530.8 82.1L532.1 80.7L533.3 79.2L534.6 77.8L535.9 76.4L537.3 75.0L538.6 73.6L539.9 72.2L541.3 70.9L542.7 69.5L544.0 68.2L545.4 66.9L546.9 65.6L541.2 59.4L539.7 60.7L538.3 62.1L536.8 63.5L535.4 64.9L534.0 66.3L532.6 67.8L531.2 69.2L529.8 70.7L528.4 72.1L527.1 73.6L525.8 75.1L524.4 76.6L523.1 78.1L521.9 79.7L520.6 81.2L519.3 82.7L518.0 84.3L516.8 85.8L515.6 87.4L514.3 88.9L513.1 90.5L511.9 92.1L510.7 93.7L509.5 95.2L508.3 96.8L507.2 98.4L506.0 100.0ZM570.2 49.9L572.0 49.2L573.7 48.6L575.4 48.0L577.2 47.5L578.9 47.1L580.7 46.7L582.4 46.4L584.2 46.2L586.0 46.1L587.8 46.0L589.6 46.1L591.3 46.2L593.1 46.4L594.8 46.7L596.6 47.1L598.3 47.6L600.0 48.1L601.7 48.7L603.4 49.4L605.1 50.1L606.7 50.9L608.3 51.8L609.9 52.7L611.4 53.7L613.0 54.8L614.5 55.9L619.4 49.1L617.8 47.9L616.0 46.7L614.2 45.6L612.4 44.5L610.6 43.5L608.7 42.5L606.7 41.7L604.7 40.9L602.7 40.1L600.6 39.5L598.5 38.9L596.4 38.5L594.3 38.1L592.1 37.9L590.0 37.7L587.8 37.6L585.6 37.7L583.5 37.8L581.3 38.1L579.2 38.4L577.1 38.9L575.0 39.4L572.9 40.0L570.9 40.6L568.9 41.4L567.0 42.1ZM634.6 76.4L635.8 78.0L637.0 79.6L638.1 81.1L639.3 82.7L640.4 84.3L641.5 85.9L642.5 87.6L643.6 89.2L644.7 90.8L645.7 92.5L646.7 94.1L647.7 95.8L648.8 97.5L649.7 99.2L650.7 100.9L651.7 102.6L652.7 104.3L653.6 106.0L654.6 107.7L655.5 109.4L656.4 111.2L657.3 112.9L658.3 114.7L659.2 116.4L660.0 118.2L660.9 119.9L661.8 121.7L669.3 117.9L668.4 116.1L667.5 114.4L666.6 112.6L665.7 110.8L664.8 109.0L663.8 107.2L662.9 105.5L661.9 103.7L661.0 101.9L660.0 100.2L659.0 98.4L658.0 96.7L657.0 94.9L656.0 93.2L654.9 91.5L653.9 89.7L652.8 88.0L651.7 86.3L650.7 84.6L649.5 82.9L648.4 81.2L647.3 79.6L646.1 77.9L645.0 76.2L643.8 74.6L642.6 73.0L641.3 71.4ZM674.6 149.4L675.3 151.2L676.1 153.0L676.8 154.8L677.6 156.5L678.3 158.3L679.1 160.1L679.8 161.9L680.5 163.6L681.2 165.4L681.9 167.2L682.7 169.0L683.4 170.8L684.1 172.6L684.8 174.4L685.5 176.2L686.2 178.0L686.9 179.8L687.6 181.6L688.3 183.4L688.9 185.2L689.6 187.0L690.3 188.8L691.0 190.6L691.6 192.4L692.3 194.2L693.0 196.0L693.6 197.8L694.3 199.6L702.2 196.7L701.5 194.9L700.9 193.1L700.2 191.3L699.5 189.5L698.8 187.6L698.2 185.8L697.5 184.0L696.8 182.2L696.1 180.4L695.4 178.6L694.7 176.7L694.0 174.9L693.3 173.1L692.6 171.3L691.9 169.5L691.2 167.7L690.5 165.9L689.7 164.1L689.0 162.3L688.3 160.5L687.6 158.7L686.8 156.9L686.1 155.1L685.3 153.3L684.6 151.5L683.8 149.7L683.1 147.9L682.3 146.1ZM704.5 228.7L705.1 230.6L705.8 232.4L706.4 234.2L707.0 236.1L707.6 237.9L708.2 239.7L708.8 241.6L709.5 243.4L710.1 245.2L710.7 247.1L711.3 248.9L711.9 250.8L712.5 252.6L713.1 254.4L713.7 256.3L714.3 258.1L714.9 260.0L715.5 261.8L716.1 263.7L716.6 265.5L717.2 267.3L717.8 269.2L718.4 271.0L719.0 272.9L719.6 274.7L720.2 276.6L720.7 278.4L721.3 280.3L729.3 277.7L728.8 275.9L728.2 274.0L727.6 272.2L727.0 270.3L726.4 268.5L725.8 266.6L725.2 264.8L724.6 262.9L724.1 261.1L723.5 259.2L722.9 257.4L722.3 255.5L721.7 253.7L721.1 251.8L720.5 250.0L719.9 248.1L719.3 246.3L718.6 244.5L718.0 242.6L717.4 240.8L716.8 238.9L716.2 237.1L715.6 235.2L715.0 233.4L714.3 231.5L713.7 229.7L713.1 227.9L712.5 226.0ZM730.4 309.9L731.0 311.7L731.6 313.6L732.1 315.4L732.7 317.3L733.2 319.1L733.8 321.0L734.4 322.9L734.9 324.7L735.5 326.6L736.0 328.4L736.6 330.3L737.1 332.1L737.7 334.0L738.2 335.9L738.8 337.7L739.3 339.6L739.9 341.4L740.4 343.3L741.0 345.2L741.5 347.0L742.1 348.9L742.6 350.7L743.2 352.6L743.7 354.5L744.3 356.3L744.8 358.2L745.4 360.1L745.9 361.9L754.0 359.6L753.4 357.7L752.9 355.8L752.3 354.0L751.8 352.1L751.2 350.2L750.7 348.4L750.2 346.5L749.6 344.7L749.1 342.8L748.5 340.9L748.0 339.1L747.4 337.2L746.9 335.3L746.3 333.5L745.7 331.6L745.2 329.7L744.6 327.9L744.1 326.0L743.5 324.2L743.0 322.3L742.4 320.4L741.8 318.6L741.3 316.7L740.7 314.9L740.2 313.0L739.6 311.1L739.0 309.3L738.5 307.4ZM754.6 391.7L755.1 393.6L755.6 395.4L756.2 397.3L756.7 399.2L757.3 401.0L757.8 402.9L758.3 404.8L758.9 406.6L759.4 408.5L759.9 410.4L760.5 412.2L761.0 414.1L761.5 416.0L762.1 417.8L762.6 419.7L763.2 421.6L763.7 423.4L764.2 425.3L764.8 427.2L765.3 429.0L765.8 430.9L766.4 432.8L766.9 434.6L767.4 436.5L768.0 438.4L768.5 440.2L769.0 442.1L769.6 444.0L777.7 441.6L777.1 439.8L776.6 437.9L776.1 436.0L775.5 434.2L775.0 432.3L774.4 430.4L773.9 428.6L773.4 426.7L772.8 424.8L772.3 423.0L771.8 421.1L771.2 419.2L770.7 417.4L770.2 415.5L769.6 413.6L769.1 411.8L768.5 409.9L768.0 408.0L767.5 406.2L766.9 404.3L766.4 402.4L765.9 400.6L765.3 398.7L764.8 396.8L764.2 395.0L763.7 393.1L763.2 391.2L762.6 389.4ZM778.2 473.8L778.7 475.6L779.2 477.5L779.8 479.4L780.3 481.2L780.8 483.1L781.4 485.0L781.9 486.8L782.5 488.7L783.0 490.6L783.5 492.4L784.1 494.3L784.6 496.2L785.2 498.0L785.7 499.9L786.3 501.8L786.8 503.6L787.3 505.5L787.9 507.4L788.4 509.2L789.0 511.1L789.5 513.0L790.1 514.8L790.6 516.7L791.2 518.6L791.7 520.4L792.3 522.3L792.8 524.2L793.3 526.0L801.4 523.6L800.9 521.8L800.3 519.9L799.8 518.1L799.2 516.2L798.7 514.3L798.1 512.5L797.6 510.6L797.0 508.7L796.5 506.9L795.9 505.0L795.4 503.2L794.9 501.3L794.3 499.4L793.8 497.6L793.2 495.7L792.7 493.8L792.2 492.0L791.6 490.1L791.1 488.2L790.5 486.4L790.0 484.5L789.5 482.6L788.9 480.8L788.4 478.9L787.8 477.1L787.3 475.2L786.8 473.3L786.2 471.5ZM802.2 555.8L802.8 557.6L803.3 559.5L803.9 561.3L804.4 563.2L805.0 565.1L805.6 566.9L806.1 568.8L806.7 570.6L807.3 572.5L807.8 574.4L808.4 576.2L809.0 578.1L809.5 579.9L810.1 581.8L810.7 583.6L811.2 585.5L811.8 587.4L812.4 589.2L813.0 591.1L813.5 592.9L814.1 594.8L814.7 596.6L815.3 598.5L815.9 600.3L816.4 602.2L817.0 604.1L817.6 605.9L818.2 607.8L826.2 605.2L825.6 603.4L825.0 601.5L824.5 599.7L823.9 597.8L823.3 596.0L822.7 594.1L822.1 592.3L821.6 590.4L821.0 588.6L820.4 586.7L819.8 584.9L819.3 583.0L818.7 581.2L818.1 579.3L817.6 577.5L817.0 575.6L816.4 573.8L815.9 571.9L815.3 570.1L814.7 568.2L814.2 566.3L813.6 564.5L813.0 562.6L812.5 560.8L811.9 558.9L811.4 557.1L810.8 555.2L810.2 553.4ZM827.7 637.3L828.3 639.1L828.9 641.0L829.5 642.8L830.2 644.7L830.8 646.5L831.4 648.4L832.0 650.2L832.6 652.0L833.2 653.9L833.9 655.7L834.5 657.6L835.1 659.4L835.7 661.2L836.4 663.1L837.0 664.9L837.6 666.7L838.3 668.6L838.9 670.4L839.5 672.3L840.2 674.1L840.8 675.9L841.5 677.8L842.1 679.6L842.8 681.4L843.4 683.2L844.1 685.1L844.7 686.9L845.4 688.7L853.3 685.9L852.6 684.1L852.0 682.3L851.3 680.4L850.7 678.6L850.0 676.8L849.4 675.0L848.7 673.1L848.1 671.3L847.5 669.5L846.8 667.7L846.2 665.8L845.6 664.0L844.9 662.2L844.3 660.3L843.7 658.5L843.1 656.7L842.4 654.9L841.8 653.0L841.2 651.2L840.6 649.4L840.0 647.5L839.3 645.7L838.7 643.9L838.1 642.0L837.5 640.2L836.9 638.4L836.3 636.5L835.7 634.7ZM856.2 717.8L856.9 719.6L857.6 721.4L858.3 723.2L859.0 725.0L859.7 726.8L860.4 728.6L861.1 730.4L861.8 732.2L862.6 734.0L863.3 735.8L864.0 737.6L864.7 739.4L865.5 741.2L866.2 743.0L866.9 744.8L867.7 746.6L868.4 748.4L869.2 750.2L869.9 752.0L870.7 753.8L871.5 755.6L872.2 757.3L873.0 759.1L873.8 760.9L874.6 762.7L875.3 764.5L876.1 766.2L876.9 768.0L884.6 764.6L883.8 762.8L883.0 761.1L882.3 759.3L881.5 757.5L880.7 755.8L879.9 754.0L879.2 752.2L878.4 750.5L877.7 748.7L876.9 746.9L876.2 745.2L875.4 743.4L874.7 741.6L874.0 739.8L873.2 738.1L872.5 736.3L871.8 734.5L871.1 732.7L870.3 730.9L869.6 729.1L868.9 727.3L868.2 725.6L867.5 723.8L866.8 722.0L866.1 720.2L865.4 718.4L864.7 716.6L864.0 714.8ZM890.2 796.0L891.1 797.8L892.0 799.6L892.9 801.4L893.8 803.1L894.7 804.9L895.7 806.7L896.6 808.5L897.6 810.2L898.5 812.0L899.5 813.8L900.4 815.5L901.4 817.3L902.4 819.0L903.4 820.8L904.4 822.5L905.4 824.2L906.4 826.0L907.4 827.7L908.5 829.4L909.5 831.1L910.6 832.9L911.6 834.6L912.7 836.3L913.8 838.0L914.9 839.7L916.0 841.3L917.1 843.0L924.1 838.4L923.0 836.7L921.9 835.1L920.9 833.4L919.8 831.8L918.8 830.1L917.7 828.4L916.7 826.8L915.7 825.1L914.7 823.4L913.7 821.7L912.7 820.0L911.7 818.3L910.7 816.6L909.7 814.9L908.7 813.2L907.8 811.4L906.8 809.7L905.9 808.0L905.0 806.2L904.0 804.5L903.1 802.8L902.2 801.0L901.3 799.3L900.4 797.5L899.5 795.8L898.6 794.0L897.7 792.2ZM935.5 867.8L936.7 869.3L938.0 870.8L939.3 872.3L940.7 873.8L942.0 875.3L943.4 876.7L944.7 878.2L946.1 879.6L947.5 881.0L948.9 882.4L950.3 883.8L951.8 885.2L953.3 886.5L954.7 887.9L956.2 889.2L957.8 890.5L959.3 891.8L960.8 893.0L962.4 894.3L964.0 895.5L965.6 896.7L967.2 897.9L968.9 899.1L970.5 900.2L972.2 901.3L973.9 902.4L975.6 903.4L980.0 896.3L978.4 895.3L976.8 894.3L975.2 893.2L973.6 892.2L972.1 891.1L970.6 890.0L969.1 888.8L967.6 887.7L966.1 886.5L964.6 885.3L963.2 884.1L961.8 882.9L960.3 881.6L958.9 880.3L957.5 879.0L956.2 877.7L954.8 876.4L953.4 875.1L952.1 873.7L950.8 872.4L949.5 871.0L948.2 869.6L946.9 868.2L945.6 866.8L944.4 865.3L943.1 863.9L941.9 862.4ZM1003.5 915.8L1005.4 916.3L1007.4 916.8L1009.3 917.3L1011.3 917.8L1013.3 918.2L1015.3 918.5L1017.3 918.9L1019.3 919.2L1021.4 919.5L1023.4 919.7L1025.4 919.9L1027.4 920.1L1029.4 920.2L1031.5 920.3L1033.5 920.4L1035.5 920.5L1037.5 920.5L1039.6 920.5L1041.6 920.4L1043.6 920.4L1045.6 920.3L1047.6 920.2L1049.6 920.0L1051.7 919.9L1053.7 919.7L1055.6 919.5L1054.8 911.1L1052.8 911.3L1050.9 911.5L1049.0 911.7L1047.1 911.8L1045.2 911.9L1043.3 912.0L1041.4 912.0L1039.5 912.1L1037.6 912.1L1035.7 912.1L1033.8 912.0L1031.9 911.9L1030.0 911.8L1028.1 911.7L1026.2 911.5L1024.3 911.4L1022.4 911.1L1020.5 910.9L1018.7 910.6L1016.8 910.3L1014.9 909.9L1013.1 909.5L1011.3 909.1L1009.4 908.7L1007.6 908.2L1005.7 907.7ZM1084.9 914.3L1086.8 913.8L1088.7 913.3L1090.7 912.9L1092.6 912.4L1094.5 911.8L1096.5 911.3L1098.4 910.8L1100.3 910.3L1102.2 909.7L1104.1 909.2L1106.0 908.6L1107.9 908.0L1109.8 907.5L1111.7 906.9L1113.6 906.3L1115.5 905.7L1117.4 905.1L1119.3 904.5L1121.2 903.9L1123.1 903.3L1125.0 902.7L1126.8 902.0L1128.7 901.4L1130.6 900.8L1132.5 900.2L1134.3 899.5L1131.7 891.6L1129.8 892.2L1127.9 892.8L1126.1 893.4L1124.2 894.1L1122.3 894.7L1120.5 895.3L1118.6 895.9L1116.7 896.5L1114.9 897.1L1113.0 897.7L1111.1 898.3L1109.3 898.9L1107.4 899.4L1105.5 900.0L1103.6 900.5L1101.8 901.1L1099.9 901.6L1098.0 902.2L1096.1 902.7L1094.2 903.2L1092.4 903.7L1090.5 904.2L1088.6 904.7L1086.7 905.2L1084.8 905.7L1082.9 906.1ZM1162.1 889.9L1163.9 889.3L1165.8 888.6L1167.7 888.0L1169.5 887.3L1171.4 886.7L1173.3 886.0L1175.1 885.4L1177.0 884.7L1178.8 884.1L1180.7 883.4L1182.6 882.8L1184.4 882.1L1186.3 881.5L1188.2 880.9L1190.0 880.2L1191.9 879.6L1193.8 879.0L1195.6 878.3L1197.5 877.7L1199.4 877.1L1201.2 876.5L1203.1 875.9L1205.0 875.2L1206.8 874.6L1208.7 874.0L1210.6 873.4L1208.0 865.4L1206.1 866.0L1204.2 866.6L1202.4 867.3L1200.5 867.9L1198.6 868.5L1196.7 869.1L1194.8 869.8L1193.0 870.4L1191.1 871.0L1189.2 871.6L1187.3 872.3L1185.5 872.9L1183.6 873.6L1181.7 874.2L1179.8 874.8L1178.0 875.5L1176.1 876.1L1174.2 876.8L1172.4 877.4L1170.5 878.1L1168.6 878.7L1166.8 879.4L1164.9 880.0L1163.0 880.7L1161.2 881.3L1159.3 882.0ZM1238.4 864.9L1240.3 864.3L1242.2 863.8L1244.1 863.2L1246.0 862.7L1247.9 862.2L1249.8 861.7L1251.6 861.1L1253.5 860.6L1255.4 860.1L1257.3 859.6L1259.2 859.1L1261.1 858.6L1263.0 858.1L1264.9 857.6L1266.8 857.2L1268.7 856.7L1270.6 856.2L1272.5 855.8L1274.4 855.3L1276.3 854.9L1278.2 854.4L1280.1 854.0L1282.0 853.5L1283.9 853.1L1285.9 852.7L1287.8 852.3L1286.0 844.1L1284.0 844.5L1282.1 844.9L1280.2 845.3L1278.2 845.8L1276.3 846.2L1274.4 846.7L1272.5 847.1L1270.5 847.6L1268.6 848.1L1266.7 848.5L1264.8 849.0L1262.8 849.5L1260.9 850.0L1259.0 850.5L1257.1 851.0L1255.2 851.5L1253.3 852.0L1251.3 852.5L1249.4 853.0L1247.5 853.6L1245.6 854.1L1243.7 854.6L1241.8 855.2L1239.9 855.7L1238.0 856.2L1236.1 856.8ZM1316.2 846.7L1318.1 846.4L1320.1 846.1L1322.0 845.8L1323.9 845.5L1325.8 845.2L1327.8 844.9L1329.7 844.6L1331.6 844.3L1333.5 844.0L1335.5 843.8L1337.4 843.5L1339.3 843.2L1341.3 843.0L1343.2 842.7L1345.1 842.5L1347.1 842.3L1349.0 842.0L1351.0 841.8L1352.9 841.6L1354.8 841.4L1356.8 841.2L1358.7 841.0L1360.6 840.8L1362.6 840.7L1364.5 840.5L1366.5 840.3L1365.8 831.9L1363.8 832.1L1361.8 832.3L1359.9 832.5L1357.9 832.7L1355.9 832.9L1354.0 833.1L1352.0 833.3L1350.0 833.5L1348.1 833.7L1346.1 833.9L1344.1 834.2L1342.2 834.4L1340.2 834.6L1338.2 834.9L1336.3 835.2L1334.3 835.4L1332.4 835.7L1330.4 836.0L1328.5 836.3L1326.5 836.6L1324.5 836.9L1322.6 837.2L1320.6 837.5L1318.7 837.8L1316.7 838.1L1314.8 838.4ZM1395.3 838.7L1397.3 838.6L1399.2 838.5L1401.1 838.5L1403.1 838.5L1405.0 838.4L1407.0 838.4L1408.9 838.4L1410.9 838.4L1412.8 838.4L1414.8 838.4L1416.7 838.4L1418.7 838.4L1420.6 838.4L1422.6 838.5L1424.5 838.5L1426.5 838.5L1428.4 838.6L1430.3 838.6L1432.3 838.7L1434.2 838.8L1436.2 838.9L1438.1 838.9L1440.1 839.0L1442.0 839.1L1444.0 839.2L1445.9 839.3L1446.4 831.0L1444.4 830.8L1442.5 830.7L1440.5 830.6L1438.5 830.5L1436.5 830.5L1434.6 830.4L1432.6 830.3L1430.6 830.2L1428.6 830.2L1426.7 830.1L1424.7 830.1L1422.7 830.1L1420.7 830.0L1418.8 830.0L1416.8 830.0L1414.8 830.0L1412.8 830.0L1410.9 830.0L1408.9 830.0L1406.9 830.0L1404.9 830.0L1402.9 830.1L1401.0 830.1L1399.0 830.1L1397.0 830.2L1395.1 830.3Z"/>
<path fill="#00ff00" d="M242.0 724.5L242.6 722.7L243.2 720.8L243.8 719.0L244.4 717.2L244.9 715.3L245.5 713.5L246.1 711.6L246.7 709.8L247.3 708.0L247.9 706.1L248.4 704.3L249.0 702.4L249.6 700.6L250.2 698.7L250.7 696.9L251.3 695.0L251.9 693.2L252.5 691.4L253.0 689.5L253.6 687.7L254.2 685.8L254.8 684.0L255.3 682.1L255.9 680.3L256.5 678.4L257.0 676.6L257.6 674.7L258.2 672.9L250.2 670.4L249.6 672.3L249.0 674.1L248.5 676.0L247.9 677.8L247.3 679.6L246.7 681.5L246.2 683.3L245.6 685.2L245.0 687.0L244.5 688.9L243.9 690.7L243.3 692.5L242.7 694.4L242.2 696.2L241.6 698.1L241.0 699.9L240.4 701.7L239.8 703.6L239.3 705.4L238.7 707.3L238.1 709.1L237.5 710.9L236.9 712.8L236.3 714.6L235.8 716.5L235.2 718.3L234.6 720.1L234.0 722.0ZM267.3 643.2L267.8 641.4L268.4 639.5L268.9 637.7L269.5 635.8L270.1 633.9L270.6 632.1L271.2 630.2L271.8 628.4L272.3 626.5L272.9 624.6L273.4 622.8L274.0 620.9L274.6 619.1L275.1 617.2L275.7 615.3L276.2 613.5L276.8 611.6L277.4 609.8L277.9 607.9L278.5 606.0L279.0 604.2L279.6 602.3L280.1 600.5L280.7 598.6L281.3 596.7L281.8 594.9L282.4 593.0L282.9 591.2L274.9 588.8L274.3 590.6L273.8 592.5L273.2 594.3L272.7 596.2L272.1 598.1L271.5 599.9L271.0 601.8L270.4 603.6L269.9 605.5L269.3 607.3L268.7 609.2L268.2 611.1L267.6 612.9L267.1 614.8L266.5 616.6L266.0 618.5L265.4 620.4L264.8 622.2L264.3 624.1L263.7 625.9L263.2 627.8L262.6 629.6L262.0 631.5L261.5 633.4L260.9 635.2L260.3 637.1L259.8 638.9L259.2 640.8ZM291.8 561.5L292.4 559.6L292.9 557.7L293.5 555.9L294.1 554.0L294.6 552.2L295.2 550.3L295.7 548.4L296.3 546.6L296.8 544.7L297.4 542.9L298.0 541.0L298.5 539.1L299.1 537.3L299.6 535.4L300.2 533.6L300.7 531.7L301.3 529.9L301.9 528.0L302.4 526.1L303.0 524.3L303.5 522.4L304.1 520.6L304.7 518.7L305.2 516.8L305.8 515.0L306.3 513.1L306.9 511.3L307.5 509.4L299.4 507.0L298.9 508.8L298.3 510.7L297.7 512.6L297.2 514.4L296.6 516.3L296.1 518.1L295.5 520.0L294.9 521.9L294.4 523.7L293.8 525.6L293.3 527.4L292.7 529.3L292.1 531.2L291.6 533.0L291.0 534.9L290.5 536.7L289.9 538.6L289.4 540.5L288.8 542.3L288.2 544.2L287.7 546.0L287.1 547.9L286.6 549.8L286.0 551.6L285.5 553.5L284.9 555.3L284.3 557.2L283.8 559.1ZM316.5 479.7L317.0 477.9L317.6 476.0L318.2 474.2L318.7 472.3L319.3 470.5L319.9 468.6L320.4 466.8L321.0 464.9L321.6 463.1L322.1 461.2L322.7 459.3L323.3 457.5L323.9 455.6L324.4 453.8L325.0 451.9L325.6 450.1L326.1 448.2L326.7 446.4L327.3 444.5L327.9 442.7L328.4 440.8L329.0 439.0L329.6 437.1L330.2 435.3L330.8 433.4L331.3 431.6L331.9 429.7L332.5 427.9L324.5 425.3L323.9 427.2L323.3 429.1L322.7 430.9L322.2 432.8L321.6 434.6L321.0 436.5L320.4 438.3L319.8 440.2L319.3 442.0L318.7 443.9L318.1 445.7L317.5 447.6L317.0 449.5L316.4 451.3L315.8 453.2L315.3 455.0L314.7 456.9L314.1 458.7L313.5 460.6L313.0 462.4L312.4 464.3L311.8 466.2L311.3 468.0L310.7 469.9L310.1 471.7L309.6 473.6L309.0 475.4L308.4 477.3ZM341.8 398.3L342.4 396.5L343.0 394.7L343.6 392.8L344.2 391.0L344.8 389.1L345.4 387.3L346.0 385.4L346.6 383.6L347.2 381.8L347.8 379.9L348.4 378.1L349.0 376.2L349.6 374.4L350.2 372.5L350.8 370.7L351.4 368.9L352.0 367.0L352.6 365.2L353.2 363.3L353.8 361.5L354.5 359.7L355.1 357.8L355.7 356.0L356.3 354.2L356.9 352.3L357.5 350.5L358.1 348.6L358.8 346.8L350.8 344.1L350.2 346.0L349.6 347.8L348.9 349.7L348.3 351.5L347.7 353.3L347.1 355.2L346.5 357.0L345.9 358.9L345.3 360.7L344.6 362.5L344.0 364.4L343.4 366.2L342.8 368.1L342.2 369.9L341.6 371.8L341.0 373.6L340.4 375.5L339.8 377.3L339.2 379.2L338.6 381.0L338.0 382.8L337.4 384.7L336.8 386.5L336.2 388.4L335.6 390.2L335.0 392.1L334.4 393.9L333.8 395.8ZM368.8 317.6L369.4 315.7L370.1 313.9L370.7 312.1L371.3 310.3L372.0 308.4L372.6 306.6L373.3 304.8L373.9 303.0L374.6 301.2L375.2 299.3L375.9 297.5L376.5 295.7L377.2 293.9L377.8 292.1L378.5 290.3L379.2 288.4L379.8 286.6L380.5 284.8L381.2 283.0L381.8 281.2L382.5 279.4L383.2 277.6L383.8 275.7L384.5 273.9L385.2 272.1L385.9 270.3L386.5 268.5L387.2 266.7L379.4 263.7L378.7 265.5L378.0 267.4L377.3 269.2L376.6 271.0L376.0 272.8L375.3 274.6L374.6 276.5L373.9 278.3L373.3 280.1L372.6 281.9L371.9 283.7L371.3 285.6L370.6 287.4L369.9 289.2L369.3 291.0L368.6 292.9L368.0 294.7L367.3 296.5L366.7 298.3L366.0 300.2L365.4 302.0L364.7 303.8L364.1 305.6L363.4 307.5L362.8 309.3L362.1 311.1L361.5 313.0L360.8 314.8ZM398.4 238.0L399.1 236.2L399.8 234.4L400.6 232.6L401.3 230.8L402.0 229.1L402.7 227.3L403.5 225.5L404.2 223.7L404.9 221.9L405.7 220.2L406.4 218.4L407.2 216.6L407.9 214.8L408.7 213.1L409.4 211.3L410.2 209.5L410.9 207.8L411.7 206.0L412.5 204.2L413.2 202.5L414.0 200.7L414.8 198.9L415.6 197.2L416.3 195.4L417.1 193.7L417.9 191.9L418.7 190.2L419.5 188.4L411.9 184.9L411.1 186.7L410.3 188.5L409.5 190.2L408.7 192.0L407.9 193.8L407.1 195.5L406.3 197.3L405.5 199.1L404.8 200.9L404.0 202.7L403.2 204.4L402.5 206.2L401.7 208.0L400.9 209.8L400.2 211.6L399.4 213.3L398.7 215.1L397.9 216.9L397.2 218.7L396.4 220.5L395.7 222.3L395.0 224.1L394.2 225.9L393.5 227.7L392.8 229.5L392.0 231.3L391.3 233.1L390.6 234.9ZM432.7 160.8L433.6 159.0L434.5 157.3L435.4 155.5L436.3 153.8L437.2 152.0L438.1 150.2L439.1 148.5L440.0 146.8L440.9 145.0L441.9 143.3L442.8 141.5L443.8 139.8L444.7 138.1L445.7 136.4L446.7 134.6L447.6 132.9L448.6 131.2L449.6 129.5L450.6 127.8L451.6 126.1L452.6 124.4L453.7 122.7L454.7 121.1L455.7 119.4L456.8 117.7L457.8 116.1L458.9 114.4L451.8 109.9L450.7 111.5L449.6 113.3L448.6 115.0L447.5 116.7L446.5 118.4L445.4 120.1L444.4 121.8L443.4 123.6L442.4 125.3L441.4 127.0L440.4 128.8L439.4 130.5L438.4 132.2L437.4 134.0L436.4 135.8L435.5 137.5L434.5 139.3L433.5 141.0L432.6 142.8L431.6 144.6L430.7 146.3L429.8 148.1L428.9 149.9L427.9 151.7L427.0 153.5L426.1 155.2L425.2 157.0ZM476.2 89.9L477.4 88.4L478.7 87.0L479.9 85.5L481.1 84.0L482.4 82.6L483.6 81.1L484.9 79.7L486.2 78.3L487.5 76.9L488.8 75.6L490.1 74.2L491.5 72.9L492.8 71.5L494.2 70.2L495.6 68.9L497.0 67.7L498.4 66.4L499.8 65.2L501.3 64.0L502.8 62.8L504.2 61.7L505.8 60.6L507.3 59.5L508.8 58.4L510.4 57.4L511.9 56.4L513.6 55.4L509.2 48.2L507.5 49.3L505.8 50.4L504.1 51.5L502.5 52.6L500.8 53.8L499.2 55.0L497.6 56.2L496.0 57.5L494.4 58.8L492.9 60.1L491.4 61.4L489.9 62.7L488.4 64.1L487.0 65.5L485.6 66.9L484.1 68.3L482.7 69.7L481.4 71.2L480.0 72.6L478.7 74.1L477.3 75.6L476.0 77.1L474.7 78.6L473.4 80.1L472.2 81.6L470.9 83.2L469.7 84.7ZM539.3 46.5L541.2 46.3L543.0 46.2L544.9 46.1L546.7 46.2L548.5 46.2L550.4 46.4L552.2 46.6L554.0 46.8L555.8 47.1L557.6 47.5L559.4 47.9L561.2 48.4L563.0 49.0L564.8 49.5L566.5 50.2L568.3 50.9L570.0 51.6L571.7 52.4L573.4 53.2L575.1 54.0L576.7 54.9L578.4 55.9L580.0 56.8L581.6 57.8L583.2 58.8L584.8 59.9L589.5 53.0L587.8 51.8L586.1 50.7L584.3 49.6L582.6 48.6L580.8 47.6L579.0 46.6L577.1 45.6L575.2 44.7L573.4 43.9L571.4 43.1L569.5 42.3L567.5 41.6L565.5 40.9L563.5 40.3L561.5 39.8L559.5 39.3L557.4 38.9L555.3 38.5L553.2 38.2L551.1 38.0L549.0 37.8L546.9 37.8L544.8 37.7L542.7 37.8L540.6 37.9L538.5 38.1ZM606.8 78.8L608.2 80.2L609.5 81.6L610.8 83.0L612.1 84.5L613.4 85.9L614.7 87.3L616.0 88.8L617.2 90.3L618.5 91.8L619.7 93.2L620.9 94.8L622.2 96.3L623.4 97.8L624.6 99.3L625.8 100.8L626.9 102.4L628.1 103.9L629.3 105.5L630.4 107.1L631.6 108.6L632.7 110.2L633.9 111.8L635.0 113.4L636.1 115.0L637.2 116.6L638.3 118.2L639.4 119.8L646.4 115.1L645.3 113.4L644.1 111.8L643.0 110.2L641.9 108.5L640.7 106.9L639.6 105.3L638.4 103.7L637.2 102.1L636.0 100.5L634.8 98.9L633.6 97.3L632.4 95.7L631.2 94.1L630.0 92.6L628.7 91.0L627.5 89.5L626.2 87.9L624.9 86.4L623.6 84.8L622.3 83.3L621.0 81.8L619.7 80.3L618.3 78.8L617.0 77.3L615.6 75.9L614.2 74.4L612.9 73.0ZM655.6 145.4L656.7 147.1L657.7 148.8L658.7 150.5L659.7 152.2L660.7 153.9L661.6 155.7L662.6 157.4L663.6 159.1L664.6 160.8L665.5 162.5L666.5 164.3L667.5 166.0L668.4 167.7L669.4 169.5L670.3 171.2L671.3 173.0L672.2 174.7L673.1 176.5L674.1 178.2L675.0 180.0L675.9 181.7L676.9 183.5L677.8 185.2L678.7 187.0L679.6 188.7L680.5 190.5L681.4 192.3L688.9 188.4L688.0 186.7L687.1 184.9L686.1 183.1L685.2 181.3L684.3 179.6L683.4 177.8L682.4 176.0L681.5 174.3L680.6 172.5L679.6 170.7L678.7 169.0L677.7 167.2L676.7 165.4L675.8 163.7L674.8 161.9L673.9 160.2L672.9 158.4L671.9 156.7L670.9 155.0L669.9 153.2L668.9 151.5L667.9 149.7L666.9 148.0L665.9 146.3L664.9 144.5L663.9 142.8L662.9 141.1ZM695.0 219.7L695.9 221.5L696.7 223.3L697.6 225.1L698.5 226.9L699.3 228.7L700.2 230.5L701.0 232.3L701.9 234.1L702.7 235.9L703.5 237.8L704.4 239.6L705.2 241.4L706.0 243.2L706.9 245.0L707.7 246.8L708.5 248.6L709.4 250.4L710.2 252.3L711.0 254.1L711.8 255.9L712.7 257.7L713.5 259.5L714.3 261.4L715.1 263.2L715.9 265.0L716.7 266.8L717.5 268.7L725.2 265.3L724.4 263.4L723.6 261.6L722.8 259.8L722.0 257.9L721.1 256.1L720.3 254.3L719.5 252.4L718.7 250.6L717.8 248.8L717.0 247.0L716.2 245.1L715.3 243.3L714.5 241.5L713.7 239.7L712.8 237.9L712.0 236.0L711.2 234.2L710.3 232.4L709.5 230.6L708.6 228.8L707.8 227.0L706.9 225.1L706.0 223.3L705.2 221.5L704.3 219.7L703.5 217.9L702.6 216.1ZM729.8 296.9L730.5 298.7L731.3 300.4L732.1 302.2L732.8 304.0L733.6 305.8L734.3 307.5L735.1 309.3L735.8 311.1L736.6 312.9L737.3 314.7L738.1 316.4L738.8 318.2L739.5 320.0L740.3 321.8L741.0 323.6L741.8 325.3L742.5 327.1L743.2 328.9L744.0 330.7L744.7 332.5L745.5 334.3L746.2 336.0L746.9 337.8L747.7 339.6L748.4 341.4L749.1 343.2L749.8 345.0L750.6 346.8L758.4 343.6L757.6 341.8L756.9 340.0L756.2 338.2L755.4 336.4L754.7 334.6L754.0 332.8L753.2 331.1L752.5 329.3L751.7 327.5L751.0 325.7L750.3 323.9L749.5 322.1L748.8 320.3L748.0 318.5L747.3 316.8L746.5 315.0L745.8 313.2L745.1 311.4L744.3 309.6L743.6 307.8L742.8 306.1L742.1 304.3L741.3 302.5L740.5 300.7L739.8 298.9L739.0 297.1L738.3 295.4L737.5 293.6ZM762.1 375.4L762.9 377.2L763.6 378.9L764.3 380.7L765.0 382.5L765.7 384.3L766.4 386.1L767.1 387.9L767.9 389.7L768.6 391.5L769.3 393.3L770.0 395.1L770.7 396.9L771.4 398.7L772.1 400.5L772.8 402.3L773.6 404.1L774.3 405.9L775.0 407.7L775.7 409.5L776.4 411.3L777.1 413.1L777.8 414.9L778.5 416.7L779.2 418.5L779.9 420.3L780.6 422.1L781.3 423.9L782.1 425.7L789.9 422.6L789.2 420.8L788.5 419.0L787.8 417.2L787.0 415.4L786.3 413.6L785.6 411.8L784.9 410.0L784.2 408.2L783.5 406.4L782.8 404.6L782.1 402.8L781.4 401.0L780.7 399.2L779.9 397.4L779.2 395.6L778.5 393.8L777.8 392.0L777.1 390.2L776.4 388.4L775.7 386.6L775.0 384.8L774.2 383.0L773.5 381.2L772.8 379.4L772.1 377.6L771.4 375.8L770.7 374.0L769.9 372.2ZM793.3 454.4L794.0 456.3L794.7 458.1L795.4 459.9L796.1 461.7L796.8 463.5L797.5 465.3L798.2 467.1L798.9 468.9L799.6 470.7L800.3 472.5L801.0 474.3L801.7 476.1L802.4 477.9L803.1 479.7L803.8 481.5L804.5 483.3L805.2 485.1L805.9 486.9L806.6 488.7L807.3 490.5L808.0 492.3L808.7 494.1L809.4 495.9L810.1 497.7L810.8 499.5L811.5 501.3L812.2 503.1L812.9 504.9L820.8 501.9L820.1 500.1L819.4 498.3L818.7 496.5L818.0 494.7L817.3 492.9L816.6 491.1L815.9 489.3L815.2 487.5L814.4 485.7L813.7 483.8L813.0 482.0L812.3 480.2L811.6 478.4L810.9 476.6L810.2 474.8L809.5 473.0L808.8 471.2L808.1 469.4L807.4 467.6L806.7 465.8L806.0 464.0L805.3 462.2L804.6 460.4L803.9 458.6L803.2 456.8L802.5 455.0L801.8 453.2L801.1 451.4ZM824.2 533.7L824.9 535.5L825.6 537.3L826.3 539.1L827.0 540.9L827.7 542.7L828.4 544.5L829.1 546.3L829.8 548.1L830.5 549.9L831.2 551.7L831.9 553.5L832.6 555.3L833.4 557.1L834.1 558.9L834.8 560.7L835.5 562.5L836.2 564.3L836.9 566.1L837.6 567.9L838.3 569.7L839.0 571.5L839.8 573.3L840.5 575.1L841.2 576.9L841.9 578.7L842.6 580.5L843.3 582.3L844.0 584.1L851.8 581.0L851.1 579.2L850.4 577.4L849.7 575.6L849.0 573.8L848.3 572.0L847.6 570.2L846.9 568.4L846.1 566.6L845.4 564.8L844.7 563.0L844.0 561.2L843.3 559.4L842.6 557.6L841.9 555.8L841.2 554.0L840.5 552.2L839.8 550.4L839.0 548.6L838.3 546.9L837.6 545.1L836.9 543.3L836.2 541.5L835.5 539.7L834.8 537.9L834.1 536.1L833.4 534.3L832.7 532.5L832.0 530.7ZM855.6 612.8L856.3 614.6L857.0 616.4L857.7 618.2L858.5 620.0L859.2 621.7L859.9 623.5L860.7 625.3L861.4 627.1L862.1 628.9L862.9 630.7L863.6 632.5L864.3 634.3L865.1 636.1L865.8 637.9L866.6 639.6L867.3 641.4L868.0 643.2L868.8 645.0L869.5 646.8L870.3 648.6L871.0 650.4L871.7 652.1L872.5 653.9L873.2 655.7L874.0 657.5L874.7 659.3L875.5 661.1L876.2 662.9L884.0 659.6L883.2 657.8L882.5 656.0L881.7 654.2L881.0 652.5L880.2 650.7L879.5 648.9L878.8 647.1L878.0 645.3L877.3 643.6L876.5 641.8L875.8 640.0L875.1 638.2L874.3 636.4L873.6 634.6L872.8 632.9L872.1 631.1L871.4 629.3L870.6 627.5L869.9 625.7L869.2 623.9L868.4 622.2L867.7 620.4L867.0 618.6L866.3 616.8L865.5 615.0L864.8 613.2L864.1 611.4L863.4 609.6ZM888.4 691.2L889.2 693.0L890.0 694.8L890.7 696.6L891.5 698.3L892.3 700.1L893.1 701.9L893.8 703.6L894.6 705.4L895.4 707.2L896.2 708.9L897.0 710.7L897.8 712.5L898.6 714.2L899.4 716.0L900.2 717.8L900.9 719.5L901.7 721.3L902.5 723.0L903.3 724.8L904.1 726.6L905.0 728.3L905.8 730.1L906.6 731.8L907.4 733.6L908.2 735.3L909.0 737.1L909.8 738.8L910.6 740.6L918.2 737.0L917.4 735.3L916.6 733.6L915.8 731.8L915.0 730.1L914.2 728.3L913.4 726.6L912.6 724.8L911.8 723.1L911.0 721.3L910.2 719.6L909.4 717.8L908.6 716.1L907.8 714.3L907.0 712.5L906.2 710.8L905.4 709.0L904.7 707.3L903.9 705.5L903.1 703.8L902.3 702.0L901.5 700.2L900.7 698.5L900.0 696.7L899.2 695.0L898.4 693.2L897.7 691.4L896.9 689.7L896.1 687.9ZM924.0 768.4L924.9 770.2L925.8 772.0L926.7 773.8L927.5 775.6L928.4 777.4L929.3 779.2L930.2 780.9L931.2 782.7L932.1 784.5L933.0 786.3L933.9 788.1L934.8 789.9L935.7 791.6L936.7 793.4L937.6 795.2L938.5 796.9L939.4 798.7L940.4 800.5L941.3 802.3L942.3 804.0L943.2 805.8L944.2 807.5L945.1 809.3L946.1 811.1L947.1 812.8L948.0 814.6L949.0 816.3L956.3 812.2L955.4 810.5L954.4 808.8L953.5 807.0L952.5 805.3L951.6 803.5L950.6 801.8L949.7 800.0L948.7 798.3L947.8 796.5L946.9 794.8L945.9 793.0L945.0 791.3L944.1 789.5L943.2 787.8L942.3 786.0L941.4 784.2L940.4 782.5L939.5 780.7L938.6 778.9L937.7 777.1L936.8 775.4L935.9 773.6L935.1 771.8L934.2 770.0L933.3 768.3L932.4 766.5L931.5 764.7ZM964.5 842.9L965.6 844.6L966.6 846.3L967.7 848.0L968.7 849.7L969.8 851.4L970.9 853.1L971.9 854.7L973.0 856.4L974.1 858.1L975.2 859.7L976.3 861.4L977.4 863.1L978.5 864.7L979.6 866.4L980.8 868.0L981.9 869.7L983.0 871.3L984.2 872.9L985.4 874.6L986.5 876.2L987.7 877.8L988.9 879.4L990.1 881.0L991.3 882.6L992.5 884.2L993.7 885.8L994.9 887.4L1001.5 882.3L1000.3 880.7L999.2 879.2L998.0 877.6L996.8 876.0L995.6 874.4L994.5 872.9L993.3 871.3L992.2 869.7L991.1 868.1L989.9 866.5L988.8 864.9L987.7 863.3L986.6 861.6L985.5 860.0L984.4 858.4L983.3 856.8L982.2 855.1L981.1 853.5L980.1 851.8L979.0 850.2L977.9 848.5L976.9 846.9L975.8 845.2L974.8 843.6L973.7 841.9L972.7 840.2L971.7 838.5ZM1014.8 910.7L1016.2 912.1L1017.6 913.6L1019.0 915.0L1020.4 916.3L1021.8 917.7L1023.2 919.1L1024.7 920.4L1026.1 921.8L1027.6 923.1L1029.1 924.4L1030.6 925.7L1032.1 927.0L1033.6 928.3L1035.2 929.5L1036.7 930.7L1038.3 931.9L1039.9 933.1L1041.5 934.3L1043.2 935.5L1044.8 936.6L1046.5 937.7L1048.2 938.8L1049.9 939.8L1051.6 940.9L1053.3 941.9L1055.1 942.9L1056.8 943.8L1060.8 936.4L1059.1 935.5L1057.5 934.6L1055.8 933.6L1054.2 932.7L1052.6 931.7L1051.1 930.7L1049.5 929.6L1048.0 928.6L1046.4 927.5L1044.9 926.4L1043.4 925.2L1041.9 924.1L1040.4 922.9L1038.9 921.7L1037.5 920.5L1036.0 919.3L1034.6 918.1L1033.2 916.8L1031.8 915.6L1030.4 914.3L1029.0 913.0L1027.6 911.7L1026.2 910.4L1024.9 909.0L1023.6 907.7L1022.2 906.3L1020.9 904.9ZM1085.7 953.7L1087.7 954.1L1089.8 954.3L1091.8 954.5L1093.9 954.7L1096.0 954.8L1098.0 954.9L1100.1 954.9L1102.2 954.9L1104.3 954.8L1106.3 954.6L1108.4 954.4L1110.4 954.2L1112.5 953.9L1114.5 953.6L1116.5 953.2L1118.6 952.8L1120.6 952.3L1122.6 951.8L1124.5 951.3L1126.5 950.7L1128.5 950.0L1130.4 949.4L1132.3 948.7L1134.2 947.9L1136.1 947.2L1138.0 946.4L1134.7 938.7L1132.9 939.4L1131.1 940.1L1129.4 940.8L1127.6 941.5L1125.8 942.1L1124.0 942.6L1122.2 943.2L1120.4 943.7L1118.6 944.2L1116.7 944.6L1114.9 945.0L1113.1 945.3L1111.2 945.6L1109.4 945.9L1107.5 946.1L1105.7 946.3L1103.8 946.4L1101.9 946.5L1100.1 946.5L1098.2 946.5L1096.3 946.4L1094.5 946.3L1092.6 946.2L1090.8 946.0L1088.9 945.7L1087.0 945.4ZM1164.4 931.3L1166.0 930.1L1167.6 929.0L1169.2 927.8L1170.7 926.6L1172.3 925.4L1173.9 924.2L1175.4 922.9L1177.0 921.7L1178.5 920.4L1180.0 919.2L1181.5 917.9L1183.0 916.6L1184.5 915.3L1186.0 914.0L1187.5 912.7L1188.9 911.4L1190.4 910.0L1191.8 908.7L1193.2 907.4L1194.7 906.0L1196.1 904.7L1197.5 903.3L1198.9 901.9L1200.3 900.5L1201.7 899.2L1203.1 897.8L1204.5 896.4L1198.5 890.5L1197.1 891.8L1195.8 893.2L1194.4 894.6L1193.0 895.9L1191.7 897.3L1190.3 898.6L1188.9 899.9L1187.5 901.2L1186.1 902.6L1184.7 903.9L1183.3 905.2L1181.8 906.5L1180.4 907.7L1179.0 909.0L1177.5 910.3L1176.1 911.5L1174.6 912.7L1173.1 914.0L1171.7 915.2L1170.2 916.4L1168.7 917.6L1167.2 918.7L1165.7 919.9L1164.1 921.1L1162.6 922.2L1161.1 923.3L1159.5 924.4ZM1225.2 874.2L1226.5 872.7L1227.8 871.2L1229.1 869.8L1230.4 868.3L1231.7 866.8L1233.0 865.3L1234.3 863.8L1235.6 862.4L1236.9 860.9L1238.2 859.4L1239.5 857.9L1240.8 856.4L1242.1 854.9L1243.3 853.4L1244.6 851.9L1245.9 850.4L1247.2 848.9L1248.5 847.5L1249.7 846.0L1251.0 844.5L1252.3 843.0L1253.6 841.5L1254.8 840.0L1256.1 838.5L1257.4 837.0L1258.7 835.5L1259.9 834.0L1253.6 828.6L1252.3 830.1L1251.0 831.5L1249.7 833.0L1248.5 834.5L1247.2 836.0L1245.9 837.5L1244.6 839.0L1243.4 840.5L1242.1 842.0L1240.8 843.5L1239.5 845.0L1238.3 846.5L1237.0 847.9L1235.7 849.4L1234.4 850.9L1233.1 852.4L1231.9 853.9L1230.6 855.4L1229.3 856.8L1228.0 858.3L1226.7 859.8L1225.4 861.3L1224.1 862.7L1222.8 864.2L1221.5 865.7L1220.2 867.1L1218.9 868.6ZM1279.8 811.4L1281.1 809.9L1282.4 808.5L1283.7 807.0L1285.0 805.6L1286.3 804.2L1287.7 802.8L1289.0 801.4L1290.3 800.0L1291.6 798.6L1293.0 797.2L1294.3 795.8L1295.7 794.4L1297.0 793.0L1298.4 791.7L1299.8 790.3L1301.2 789.0L1302.5 787.6L1303.9 786.3L1305.3 785.0L1306.7 783.7L1308.2 782.4L1309.6 781.1L1311.0 779.8L1312.5 778.6L1313.9 777.3L1315.4 776.1L1316.9 774.9L1311.6 768.4L1310.1 769.6L1308.5 770.9L1307.0 772.2L1305.5 773.5L1304.0 774.8L1302.5 776.1L1301.1 777.5L1299.6 778.8L1298.2 780.2L1296.7 781.6L1295.3 782.9L1293.9 784.3L1292.5 785.7L1291.1 787.1L1289.7 788.5L1288.3 789.9L1286.9 791.3L1285.6 792.7L1284.2 794.2L1282.9 795.6L1281.5 797.0L1280.2 798.5L1278.8 799.9L1277.5 801.4L1276.2 802.8L1274.9 804.3L1273.5 805.7ZM1340.8 759.7L1342.6 758.9L1344.3 758.2L1346.1 757.6L1347.8 757.1L1349.6 756.6L1351.3 756.1L1353.1 755.8L1354.9 755.5L1356.7 755.3L1358.5 755.1L1360.3 755.1L1362.0 755.1L1363.8 755.2L1365.6 755.4L1367.3 755.7L1369.1 756.0L1370.8 756.5L1372.5 757.0L1374.2 757.6L1375.8 758.3L1377.5 759.0L1379.1 759.8L1380.7 760.7L1382.2 761.7L1383.7 762.7L1385.3 763.8L1390.2 756.9L1388.5 755.7L1386.7 754.6L1384.9 753.5L1383.0 752.4L1381.1 751.4L1379.2 750.5L1377.2 749.7L1375.1 749.0L1373.1 748.4L1371.0 747.8L1368.8 747.4L1366.7 747.1L1364.5 746.8L1362.3 746.7L1360.2 746.7L1358.0 746.7L1355.9 746.9L1353.7 747.2L1351.6 747.5L1349.5 747.9L1347.4 748.4L1345.4 749.0L1343.4 749.7L1341.4 750.4L1339.4 751.1L1337.6 751.9ZM1404.7 784.7L1405.8 786.3L1406.9 787.9L1408.0 789.6L1409.0 791.2L1410.0 792.9L1411.0 794.6L1412.0 796.2L1413.0 797.9L1413.9 799.6L1414.9 801.4L1415.8 803.1L1416.7 804.8L1417.6 806.6L1418.5 808.3L1419.3 810.1L1420.2 811.8L1421.1 813.6L1421.9 815.4L1422.7 817.2L1423.5 819.0L1424.3 820.8L1425.1 822.6L1425.9 824.4L1426.7 826.2L1427.4 828.0L1428.2 829.8L1428.9 831.7L1436.7 828.5L1436.0 826.6L1435.2 824.8L1434.4 822.9L1433.6 821.1L1432.8 819.2L1432.0 817.4L1431.2 815.5L1430.4 813.7L1429.5 811.8L1428.6 810.0L1427.8 808.2L1426.9 806.4L1426.0 804.6L1425.1 802.7L1424.2 800.9L1423.2 799.1L1422.3 797.4L1421.3 795.6L1420.3 793.8L1419.3 792.0L1418.2 790.3L1417.2 788.5L1416.1 786.8L1415.0 785.1L1413.9 783.3L1412.8 781.6L1411.6 780.0ZM1439.5 860.4L1440.1 862.3L1440.7 864.1L1441.3 865.9L1441.9 867.8L1442.5 869.6L1443.1 871.5L1443.6 873.3L1444.2 875.1L1444.8 877.0L1445.4 878.8L1445.9 880.7L1446.5 882.5L1447.0 884.4L1447.6 886.2L1448.1 888.1L1448.6 890.0L1449.2 891.8L1449.7 893.7L1450.2 895.5L1450.8 897.4L1451.3 899.3L1451.8 901.1L1452.3 903.0L1452.8 904.8L1453.3 906.7L1453.8 908.6L1454.3 910.4L1454.8 912.3L1462.9 910.2L1462.4 908.3L1461.9 906.4L1461.4 904.5L1460.9 902.7L1460.4 900.8L1459.9 898.9L1459.4 897.0L1458.8 895.1L1458.3 893.3L1457.8 891.4L1457.3 889.5L1456.7 887.6L1456.2 885.7L1455.6 883.9L1455.1 882.0L1454.5 880.1L1454.0 878.3L1453.4 876.4L1452.8 874.5L1452.2 872.7L1451.7 870.8L1451.1 868.9L1450.5 867.1L1449.9 865.2L1449.3 863.4L1448.7 861.5L1448.1 859.6L1447.5 857.8ZM1462.3 942.4L1462.7 944.3L1463.2 946.2L1463.6 948.1L1464.0 950.0L1464.5 951.9L1464.9 953.8L1473.1 951.9L1472.7 950.0L1472.2 948.1L1471.8 946.2L1471.3 944.3L1470.9 942.3L1470.4 940.4Z"/>
<path fill="#ff0000" d="M241.7 698.6L242.6 696.9L243.6 695.2L244.6 693.4L245.5 691.6L246.5 689.9L247.4 688.1L248.3 686.4L249.3 684.6L250.2 682.8L251.1 681.1L252.0 679.3L253.0 677.5L253.9 675.8L254.8 674.0L255.7 672.2L256.6 670.4L257.5 668.6L258.4 666.9L259.3 665.1L260.1 663.3L261.0 661.5L261.9 659.7L262.8 657.9L263.6 656.1L264.5 654.3L265.4 652.5L266.2 650.7L258.7 647.1L257.8 648.9L257.0 650.7L256.1 652.5L255.2 654.2L254.4 656.0L253.5 657.8L252.6 659.6L251.7 661.3L250.9 663.1L250.0 664.9L249.1 666.6L248.2 668.4L247.3 670.2L246.4 671.9L245.5 673.7L244.6 675.4L243.7 677.2L242.8 678.9L241.8 680.7L240.9 682.4L240.0 684.2L239.1 685.9L238.1 687.7L237.2 689.4L236.2 691.1L235.3 692.9L234.3 694.6ZM279.2 622.7L280.0 620.9L280.8 619.2L281.6 617.4L282.4 615.6L283.2 613.9L283.9 612.1L284.7 610.3L285.5 608.5L286.3 606.8L287.0 605.0L287.8 603.2L288.6 601.4L289.3 599.7L290.1 597.9L290.9 596.1L291.6 594.3L292.4 592.5L293.1 590.8L293.9 589.0L294.6 587.2L295.4 585.4L296.1 583.6L296.9 581.8L297.6 580.1L298.4 578.3L299.1 576.5L299.9 574.7L300.6 572.9L292.8 569.7L292.1 571.5L291.4 573.3L290.6 575.0L289.9 576.8L289.1 578.6L288.4 580.4L287.7 582.2L286.9 583.9L286.2 585.7L285.4 587.5L284.7 589.3L283.9 591.0L283.1 592.8L282.4 594.6L281.6 596.3L280.9 598.1L280.1 599.9L279.3 601.6L278.6 603.4L277.8 605.2L277.0 606.9L276.3 608.7L275.5 610.5L274.7 612.2L273.9 614.0L273.1 615.8L272.3 617.5L271.6 619.3ZM312.2 544.2L312.9 542.4L313.6 540.6L314.3 538.8L315.1 537.0L315.8 535.2L316.5 533.4L317.2 531.6L317.9 529.8L318.6 528.0L319.3 526.2L320.0 524.4L320.7 522.6L321.4 520.8L322.1 519.0L322.8 517.2L323.5 515.4L324.2 513.6L324.9 511.8L325.6 510.0L326.3 508.1L327.0 506.3L327.7 504.5L328.4 502.7L329.1 500.9L329.7 499.1L330.4 497.3L331.1 495.5L331.8 493.7L324.0 490.7L323.3 492.5L322.6 494.3L321.9 496.1L321.2 497.9L320.5 499.7L319.8 501.5L319.1 503.3L318.4 505.1L317.8 506.9L317.1 508.7L316.4 510.5L315.7 512.3L315.0 514.2L314.3 516.0L313.6 517.8L312.9 519.6L312.2 521.4L311.5 523.2L310.8 525.0L310.1 526.8L309.4 528.6L308.7 530.4L307.9 532.1L307.2 533.9L306.5 535.7L305.8 537.5L305.1 539.3L304.4 541.1ZM342.7 464.7L343.4 462.9L344.1 461.1L344.7 459.3L345.4 457.5L346.1 455.6L346.8 453.8L347.4 452.0L348.1 450.2L348.8 448.4L349.5 446.6L350.1 444.7L350.8 442.9L351.5 441.1L352.1 439.3L352.8 437.5L353.5 435.7L354.2 433.8L354.8 432.0L355.5 430.2L356.2 428.4L356.8 426.6L357.5 424.8L358.2 422.9L358.8 421.1L359.5 419.3L360.2 417.5L360.9 415.7L361.5 413.9L353.6 411.0L353.0 412.8L352.3 414.6L351.6 416.4L351.0 418.2L350.3 420.0L349.6 421.9L349.0 423.7L348.3 425.5L347.6 427.3L346.9 429.1L346.3 430.9L345.6 432.8L344.9 434.6L344.3 436.4L343.6 438.2L342.9 440.0L342.3 441.8L341.6 443.6L340.9 445.5L340.2 447.3L339.6 449.1L338.9 450.9L338.2 452.7L337.5 454.5L336.9 456.3L336.2 458.2L335.5 460.0L334.8 461.8ZM372.2 384.8L372.9 383.0L373.5 381.2L374.2 379.4L374.9 377.6L375.5 375.7L376.2 373.9L376.9 372.1L377.5 370.3L378.2 368.5L378.9 366.7L379.5 364.8L380.2 363.0L380.9 361.2L381.6 359.4L382.2 357.6L382.9 355.8L383.6 354.0L384.2 352.1L384.9 350.3L385.6 348.5L386.3 346.7L386.9 344.9L387.6 343.1L388.3 341.3L388.9 339.4L389.6 337.6L390.3 335.8L391.0 334.0L383.1 331.1L382.4 332.9L381.7 334.7L381.1 336.5L380.4 338.3L379.7 340.1L379.0 342.0L378.4 343.8L377.7 345.6L377.0 347.4L376.4 349.2L375.7 351.0L375.0 352.9L374.3 354.7L373.7 356.5L373.0 358.3L372.3 360.1L371.7 361.9L371.0 363.8L370.3 365.6L369.7 367.4L369.0 369.2L368.3 371.0L367.6 372.8L367.0 374.7L366.3 376.5L365.6 378.3L365.0 380.1L364.3 381.9ZM401.8 305.1L402.5 303.3L403.2 301.5L403.9 299.7L404.6 297.9L405.3 296.1L406.0 294.3L406.7 292.4L407.4 290.6L408.0 288.8L408.7 287.0L409.4 285.2L410.1 283.4L410.8 281.6L411.5 279.8L412.2 278.0L412.9 276.2L413.6 274.4L414.3 272.6L415.0 270.8L415.7 269.0L416.4 267.2L417.2 265.4L417.9 263.6L418.6 261.8L419.3 260.0L420.0 258.3L420.7 256.5L421.4 254.7L413.6 251.6L412.9 253.3L412.2 255.1L411.5 257.0L410.8 258.8L410.1 260.6L409.3 262.4L408.6 264.2L407.9 266.0L407.2 267.8L406.5 269.6L405.8 271.4L405.1 273.2L404.4 275.0L403.7 276.8L403.0 278.6L402.3 280.4L401.6 282.2L400.9 284.0L400.2 285.8L399.5 287.6L398.8 289.4L398.1 291.2L397.4 293.1L396.7 294.9L396.1 296.7L395.4 298.5L394.7 300.3L394.0 302.1ZM433.1 226.1L433.8 224.4L434.5 222.6L435.3 220.8L436.0 219.0L436.8 217.3L437.5 215.5L438.3 213.7L439.0 211.9L439.8 210.2L440.6 208.4L441.3 206.6L442.1 204.9L442.9 203.1L443.6 201.3L444.4 199.6L445.2 197.8L446.0 196.1L446.7 194.3L447.5 192.5L448.3 190.8L449.1 189.0L449.9 187.3L450.7 185.5L451.5 183.8L452.3 182.0L453.1 180.3L453.9 178.5L454.7 176.8L447.1 173.3L446.3 175.0L445.4 176.8L444.6 178.5L443.8 180.3L443.0 182.1L442.2 183.8L441.4 185.6L440.6 187.4L439.8 189.1L439.1 190.9L438.3 192.7L437.5 194.4L436.7 196.2L435.9 198.0L435.2 199.8L434.4 201.5L433.6 203.3L432.9 205.1L432.1 206.9L431.3 208.6L430.6 210.4L429.8 212.2L429.1 214.0L428.3 215.8L427.5 217.5L426.8 219.3L426.0 221.1L425.3 222.9ZM468.1 149.3L469.0 147.5L469.9 145.7L470.8 144.0L471.7 142.2L472.6 140.5L473.5 138.7L474.5 137.0L475.4 135.2L476.3 133.5L477.3 131.8L478.2 130.0L479.2 128.3L480.2 126.6L481.1 124.9L482.1 123.2L483.1 121.5L484.1 119.8L485.1 118.1L486.1 116.4L487.1 114.7L488.1 113.0L489.1 111.3L490.2 109.6L491.2 108.0L492.3 106.3L493.3 104.7L494.4 103.0L487.4 98.4L486.3 100.1L485.2 101.8L484.1 103.5L483.1 105.2L482.0 106.9L480.9 108.6L479.9 110.3L478.9 112.1L477.8 113.8L476.8 115.5L475.8 117.3L474.8 119.0L473.8 120.7L472.8 122.5L471.9 124.2L470.9 126.0L469.9 127.7L469.0 129.5L468.0 131.3L467.1 133.0L466.1 134.8L465.2 136.6L464.2 138.3L463.3 140.1L462.4 141.9L461.5 143.7L460.6 145.4ZM512.1 78.9L513.3 77.4L514.5 76.0L515.8 74.6L517.1 73.2L518.3 71.8L519.6 70.4L521.0 69.1L522.3 67.8L523.6 66.5L525.0 65.2L526.4 63.9L527.8 62.7L529.2 61.5L530.6 60.3L532.1 59.1L533.6 58.0L535.1 56.9L536.6 55.9L538.1 54.9L539.7 53.9L541.2 53.0L542.8 52.1L544.4 51.3L546.1 50.5L547.7 49.8L549.4 49.1L551.2 48.5L548.3 40.6L546.4 41.3L544.5 42.0L542.6 42.9L540.7 43.8L538.9 44.7L537.1 45.7L535.3 46.7L533.6 47.8L531.9 48.9L530.2 50.1L528.6 51.3L527.0 52.5L525.4 53.7L523.8 55.0L522.3 56.3L520.8 57.7L519.3 59.0L517.8 60.4L516.4 61.8L515.0 63.2L513.6 64.6L512.2 66.1L510.9 67.5L509.5 69.0L508.2 70.5L506.9 72.0L505.7 73.5ZM577.1 48.0L578.9 48.6L580.6 49.2L582.2 49.8L583.9 50.6L585.5 51.3L587.1 52.2L588.7 53.1L590.3 54.0L591.8 55.0L593.3 56.0L594.8 57.0L596.3 58.1L597.8 59.3L599.2 60.4L600.7 61.6L602.1 62.8L603.4 64.1L604.8 65.4L606.2 66.7L607.5 68.0L608.8 69.3L610.1 70.7L611.4 72.1L612.6 73.5L613.9 74.9L615.1 76.3L616.4 77.8L622.8 72.4L621.5 70.9L620.2 69.4L618.9 67.9L617.6 66.4L616.2 64.9L614.8 63.5L613.4 62.1L612.0 60.7L610.6 59.3L609.1 57.9L607.6 56.6L606.1 55.2L604.6 53.9L603.0 52.7L601.4 51.4L599.7 50.2L598.1 49.1L596.4 47.9L594.7 46.8L592.9 45.8L591.1 44.8L589.3 43.8L587.4 42.9L585.5 42.1L583.6 41.3L581.6 40.6L579.7 40.0ZM633.8 102.0L634.9 103.6L635.9 105.3L637.0 107.0L638.0 108.6L639.0 110.3L640.0 112.0L641.0 113.7L642.0 115.4L643.0 117.1L644.0 118.8L645.0 120.5L645.9 122.3L646.9 124.0L647.8 125.7L648.8 127.5L649.7 129.2L650.7 130.9L651.6 132.7L652.5 134.4L653.4 136.2L654.3 137.9L655.2 139.7L656.1 141.5L657.0 143.2L657.9 145.0L658.8 146.8L659.6 148.6L667.2 144.8L666.3 143.1L665.4 141.3L664.5 139.5L663.6 137.7L662.7 135.9L661.8 134.1L660.9 132.3L659.9 130.5L659.0 128.8L658.1 127.0L657.1 125.2L656.2 123.5L655.2 121.7L654.2 119.9L653.3 118.2L652.3 116.4L651.3 114.7L650.3 112.9L649.3 111.2L648.3 109.5L647.3 107.7L646.2 106.0L645.2 104.3L644.1 102.6L643.1 100.8L642.0 99.1L640.9 97.4ZM672.6 176.3L673.3 178.1L674.1 179.8L674.9 181.6L675.7 183.4L676.4 185.1L677.2 186.9L678.0 188.7L678.7 190.4L679.5 192.2L680.2 194.0L681.0 195.8L681.7 197.5L682.5 199.3L683.2 201.1L683.9 202.9L684.7 204.6L685.4 206.4L686.1 208.2L686.9 210.0L687.6 211.8L688.3 213.6L689.0 215.3L689.7 217.1L690.5 218.9L691.2 220.7L691.9 222.5L692.6 224.3L693.3 226.1L701.1 223.0L700.4 221.2L699.7 219.4L699.0 217.6L698.3 215.8L697.5 214.0L696.8 212.2L696.1 210.4L695.4 208.6L694.6 206.8L693.9 205.0L693.2 203.2L692.4 201.4L691.7 199.7L691.0 197.9L690.2 196.1L689.5 194.3L688.7 192.5L688.0 190.7L687.2 188.9L686.4 187.1L685.7 185.4L684.9 183.6L684.1 181.8L683.4 180.0L682.6 178.2L681.8 176.5L681.0 174.7L680.2 172.9ZM704.3 254.9L705.0 256.7L705.7 258.5L706.3 260.3L707.0 262.1L707.7 263.9L708.4 265.8L709.0 267.6L709.7 269.4L710.3 271.2L711.0 273.0L711.7 274.8L712.3 276.7L713.0 278.5L713.6 280.3L714.3 282.1L715.0 283.9L715.6 285.7L716.3 287.6L716.9 289.4L717.6 291.2L718.2 293.0L718.9 294.9L719.5 296.7L720.1 298.5L720.8 300.3L721.4 302.2L722.1 304.0L722.7 305.8L730.6 303.0L730.0 301.2L729.4 299.4L728.7 297.5L728.1 295.7L727.4 293.9L726.8 292.0L726.1 290.2L725.5 288.4L724.8 286.6L724.2 284.7L723.5 282.9L722.9 281.1L722.2 279.3L721.5 277.4L720.9 275.6L720.2 273.8L719.6 272.0L718.9 270.1L718.2 268.3L717.6 266.5L716.9 264.7L716.2 262.9L715.6 261.0L714.9 259.2L714.2 257.4L713.5 255.6L712.9 253.8L712.2 251.9ZM732.8 335.0L733.5 336.9L734.1 338.7L734.7 340.5L735.3 342.4L735.9 344.2L736.6 346.0L737.2 347.9L737.8 349.7L738.4 351.5L739.0 353.4L739.7 355.2L740.3 357.0L740.9 358.9L741.5 360.7L742.1 362.5L742.8 364.4L743.4 366.2L744.0 368.1L744.6 369.9L745.2 371.7L745.8 373.6L746.4 375.4L747.0 377.2L747.7 379.1L748.3 380.9L748.9 382.8L749.5 384.6L750.1 386.4L758.1 383.8L757.5 382.0L756.9 380.1L756.2 378.3L755.6 376.4L755.0 374.6L754.4 372.8L753.8 370.9L753.2 369.1L752.6 367.2L751.9 365.4L751.3 363.6L750.7 361.7L750.1 359.9L749.5 358.0L748.9 356.2L748.2 354.4L747.6 352.5L747.0 350.7L746.4 348.8L745.8 347.0L745.1 345.2L744.5 343.3L743.9 341.5L743.3 339.7L742.7 337.8L742.0 336.0L741.4 334.1L740.8 332.3ZM759.8 415.8L760.4 417.7L761.0 419.5L761.6 421.4L762.2 423.2L762.8 425.1L763.4 426.9L764.0 428.7L764.6 430.6L765.2 432.4L765.8 434.3L766.4 436.1L767.0 438.0L767.6 439.8L768.2 441.6L768.8 443.5L769.4 445.3L770.0 447.2L770.7 449.0L771.3 450.9L771.9 452.7L772.5 454.5L773.1 456.4L773.7 458.2L774.3 460.1L774.9 461.9L775.5 463.8L776.1 465.6L776.7 467.5L784.7 464.8L784.1 463.0L783.5 461.2L782.9 459.3L782.2 457.5L781.6 455.6L781.0 453.8L780.4 451.9L779.8 450.1L779.2 448.3L778.6 446.4L778.0 444.6L777.4 442.7L776.8 440.9L776.2 439.0L775.6 437.2L775.0 435.3L774.4 433.5L773.8 431.7L773.2 429.8L772.6 428.0L772.0 426.1L771.4 424.3L770.8 422.4L770.2 420.6L769.6 418.8L769.0 416.9L768.4 415.1L767.8 413.2ZM786.3 496.9L786.9 498.7L787.5 500.6L788.1 502.4L788.7 504.3L789.3 506.1L789.9 508.0L790.5 509.8L791.1 511.6L791.8 513.5L792.4 515.3L793.0 517.2L793.6 519.0L794.2 520.9L794.8 522.7L795.4 524.5L796.0 526.4L796.6 528.2L797.2 530.1L797.8 531.9L798.4 533.7L799.1 535.6L799.7 537.4L800.3 539.3L800.9 541.1L801.5 543.0L802.1 544.8L802.7 546.6L803.3 548.5L811.3 545.8L810.7 544.0L810.1 542.1L809.5 540.3L808.9 538.5L808.3 536.6L807.6 534.8L807.0 532.9L806.4 531.1L805.8 529.3L805.2 527.4L804.6 525.6L804.0 523.7L803.4 521.9L802.8 520.1L802.2 518.2L801.6 516.4L800.9 514.5L800.3 512.7L799.7 510.9L799.1 509.0L798.5 507.2L797.9 505.3L797.3 503.5L796.7 501.7L796.1 499.8L795.5 498.0L794.9 496.1L794.3 494.3ZM813.2 577.8L813.9 579.7L814.5 581.5L815.1 583.4L815.7 585.2L816.4 587.0L817.0 588.9L817.6 590.7L818.3 592.5L818.9 594.4L819.5 596.2L820.1 598.0L820.8 599.9L821.4 601.7L822.0 603.5L822.7 605.4L823.3 607.2L824.0 609.0L824.6 610.9L825.2 612.7L825.9 614.5L826.5 616.4L827.2 618.2L827.8 620.0L828.4 621.8L829.1 623.7L829.7 625.5L830.4 627.3L831.0 629.2L838.9 626.4L838.3 624.5L837.7 622.7L837.0 620.9L836.4 619.1L835.7 617.2L835.1 615.4L834.4 613.6L833.8 611.7L833.2 609.9L832.5 608.1L831.9 606.3L831.3 604.4L830.6 602.6L830.0 600.8L829.3 599.0L828.7 597.1L828.1 595.3L827.5 593.5L826.8 591.6L826.2 589.8L825.6 588.0L824.9 586.1L824.3 584.3L823.7 582.5L823.1 580.6L822.4 578.8L821.8 577.0L821.2 575.1ZM841.5 658.3L842.2 660.1L842.9 661.9L843.6 663.8L844.2 665.6L844.9 667.4L845.6 669.2L846.3 671.0L846.9 672.8L847.6 674.7L848.3 676.5L849.0 678.3L849.7 680.1L850.4 681.9L851.0 683.7L851.7 685.5L852.4 687.3L853.1 689.2L853.8 691.0L854.5 692.8L855.2 694.6L855.9 696.4L856.6 698.2L857.3 700.0L858.0 701.8L858.7 703.6L859.4 705.4L860.2 707.2L860.9 709.0L868.7 705.9L868.0 704.1L867.3 702.3L866.6 700.5L865.8 698.8L865.1 697.0L864.4 695.2L863.7 693.4L863.0 691.6L862.4 689.8L861.7 688.0L861.0 686.2L860.3 684.3L859.6 682.5L858.9 680.7L858.2 678.9L857.5 677.1L856.8 675.3L856.2 673.5L855.5 671.7L854.8 669.9L854.1 668.1L853.5 666.3L852.8 664.5L852.1 662.7L851.4 660.8L850.8 659.0L850.1 657.2L849.4 655.4ZM872.6 737.7L873.3 739.5L874.1 741.3L874.8 743.0L875.6 744.8L876.4 746.6L877.1 748.4L877.9 750.2L878.7 751.9L879.4 753.7L880.2 755.5L881.0 757.3L881.8 759.0L882.6 760.8L883.3 762.6L884.1 764.3L884.9 766.1L885.7 767.9L886.5 769.6L887.3 771.4L888.1 773.2L889.0 774.9L889.8 776.7L890.6 778.4L891.4 780.2L892.2 781.9L893.1 783.7L893.9 785.4L894.7 787.2L902.3 783.6L901.5 781.8L900.7 780.1L899.8 778.3L899.0 776.6L898.2 774.9L897.4 773.1L896.6 771.4L895.8 769.6L895.0 767.9L894.2 766.1L893.4 764.4L892.6 762.6L891.8 760.9L891.0 759.1L890.2 757.4L889.5 755.6L888.7 753.9L887.9 752.1L887.1 750.3L886.4 748.6L885.6 746.8L884.8 745.1L884.1 743.3L883.3 741.5L882.6 739.8L881.8 738.0L881.1 736.2L880.3 734.4ZM908.7 814.8L909.6 816.5L910.5 818.3L911.5 820.1L912.5 821.8L913.4 823.6L914.4 825.3L915.4 827.1L916.4 828.8L917.3 830.6L918.3 832.3L919.3 834.0L920.4 835.8L921.4 837.5L922.4 839.2L923.4 840.9L924.5 842.6L925.5 844.3L926.6 846.1L927.6 847.8L928.7 849.5L929.8 851.1L930.9 852.8L931.9 854.5L933.1 856.2L934.2 857.9L935.3 859.5L936.4 861.2L943.4 856.5L942.2 854.8L941.1 853.2L940.1 851.6L939.0 849.9L937.9 848.3L936.8 846.6L935.8 845.0L934.7 843.3L933.7 841.6L932.7 839.9L931.6 838.3L930.6 836.6L929.6 834.9L928.6 833.2L927.6 831.5L926.6 829.8L925.6 828.1L924.6 826.4L923.7 824.7L922.7 823.0L921.7 821.2L920.8 819.5L919.8 817.8L918.9 816.0L917.9 814.3L917.0 812.6L916.1 810.8ZM955.0 885.8L956.3 887.3L957.6 888.7L958.9 890.2L960.2 891.7L961.6 893.2L962.9 894.6L964.3 896.1L965.7 897.5L967.1 898.9L968.5 900.3L969.9 901.7L971.4 903.0L972.9 904.4L974.3 905.7L975.8 907.0L977.4 908.4L978.9 909.6L980.4 910.9L982.0 912.1L983.6 913.4L985.2 914.6L986.8 915.7L988.5 916.9L990.1 918.0L991.8 919.1L993.5 920.2L995.2 921.2L999.6 914.1L998.0 913.1L996.4 912.1L994.8 911.0L993.3 910.0L991.7 908.9L990.2 907.8L988.7 906.7L987.2 905.5L985.7 904.3L984.2 903.2L982.8 901.9L981.4 900.7L979.9 899.5L978.5 898.2L977.1 896.9L975.8 895.6L974.4 894.3L973.0 892.9L971.7 891.6L970.4 890.2L969.1 888.8L967.7 887.5L966.5 886.1L965.2 884.6L963.9 883.2L962.7 881.8L961.4 880.3ZM1023.5 933.0L1025.4 933.5L1027.5 933.9L1029.5 934.3L1031.5 934.6L1033.5 934.9L1035.6 935.1L1037.6 935.3L1039.7 935.5L1041.7 935.6L1043.8 935.7L1045.8 935.7L1047.9 935.7L1049.9 935.7L1052.0 935.6L1054.0 935.4L1056.0 935.3L1058.1 935.0L1060.1 934.8L1062.1 934.5L1064.1 934.2L1066.1 933.9L1068.1 933.5L1070.1 933.1L1072.1 932.7L1074.0 932.2L1076.0 931.7L1073.9 923.6L1072.1 924.0L1070.2 924.5L1068.4 924.9L1066.5 925.3L1064.6 925.6L1062.8 925.9L1060.9 926.2L1059.0 926.5L1057.1 926.7L1055.3 926.9L1053.4 927.0L1051.5 927.2L1049.6 927.3L1047.7 927.3L1045.8 927.3L1044.0 927.3L1042.1 927.2L1040.2 927.1L1038.4 927.0L1036.5 926.8L1034.6 926.6L1032.8 926.3L1030.9 926.0L1029.1 925.7L1027.3 925.3L1025.4 924.8ZM1104.3 921.9L1106.1 921.1L1108.0 920.3L1109.8 919.5L1111.6 918.6L1113.5 917.8L1115.3 916.9L1117.1 916.1L1118.9 915.2L1120.7 914.3L1122.5 913.5L1124.3 912.6L1126.1 911.7L1127.9 910.8L1129.7 909.9L1131.4 908.9L1133.2 908.0L1135.0 907.1L1136.8 906.2L1138.5 905.2L1140.3 904.3L1142.1 903.4L1143.8 902.4L1145.6 901.5L1147.3 900.5L1149.1 899.6L1150.8 898.7L1146.8 891.3L1145.1 892.2L1143.3 893.1L1141.6 894.1L1139.9 895.0L1138.1 896.0L1136.4 896.9L1134.6 897.8L1132.9 898.7L1131.1 899.6L1129.3 900.6L1127.6 901.5L1125.8 902.4L1124.1 903.3L1122.3 904.2L1120.6 905.0L1118.8 905.9L1117.0 906.8L1115.3 907.7L1113.5 908.5L1111.7 909.3L1109.9 910.2L1108.1 911.0L1106.4 911.8L1104.6 912.6L1102.8 913.4L1101.0 914.2ZM1176.8 884.8L1178.6 883.8L1180.3 882.9L1182.1 882.0L1183.8 881.1L1185.6 880.3L1187.4 879.4L1189.1 878.5L1190.9 877.6L1192.6 876.8L1194.4 875.9L1196.2 875.0L1198.0 874.2L1199.8 873.4L1201.5 872.5L1203.3 871.7L1205.1 870.9L1206.9 870.1L1208.7 869.3L1210.5 868.5L1212.3 867.8L1214.1 867.0L1215.9 866.2L1217.7 865.5L1219.6 864.8L1221.4 864.0L1223.2 863.3L1220.2 855.5L1218.3 856.2L1216.4 857.0L1214.6 857.7L1212.7 858.5L1210.9 859.2L1209.0 860.0L1207.2 860.8L1205.3 861.6L1203.5 862.4L1201.7 863.2L1199.8 864.1L1198.0 864.9L1196.2 865.7L1194.4 866.6L1192.6 867.5L1190.8 868.3L1189.0 869.2L1187.2 870.1L1185.4 871.0L1183.6 871.9L1181.8 872.8L1180.0 873.7L1178.2 874.6L1176.5 875.5L1174.7 876.4L1172.9 877.3ZM1250.6 854.3L1252.5 853.8L1254.3 853.3L1256.2 852.9L1258.1 852.4L1260.0 852.0L1261.9 851.5L1263.7 851.1L1265.6 850.7L1267.5 850.4L1269.4 850.0L1271.3 849.6L1273.2 849.3L1275.1 849.0L1277.1 848.6L1279.0 848.3L1280.9 848.0L1282.8 847.8L1284.7 847.5L1286.6 847.3L1288.6 847.0L1290.5 846.8L1292.4 846.6L1294.3 846.4L1296.3 846.2L1298.2 846.0L1300.2 845.9L1299.4 837.5L1297.5 837.7L1295.5 837.9L1293.5 838.0L1291.5 838.2L1289.6 838.5L1287.6 838.7L1285.6 838.9L1283.6 839.2L1281.6 839.5L1279.7 839.7L1277.7 840.0L1275.7 840.3L1273.7 840.7L1271.8 841.0L1269.8 841.4L1267.9 841.7L1265.9 842.1L1263.9 842.5L1262.0 842.9L1260.0 843.4L1258.1 843.8L1256.1 844.2L1254.2 844.7L1252.3 845.2L1250.3 845.7L1248.4 846.2ZM1328.9 844.6L1330.9 844.5L1332.9 844.5L1334.8 844.5L1336.8 844.4L1338.7 844.4L1340.7 844.4L1342.6 844.4L1344.6 844.4L1346.6 844.3L1348.5 844.3L1350.5 844.3L1352.4 844.3L1354.4 844.3L1356.4 844.2L1358.4 844.2L1360.3 844.2L1362.3 844.1L1364.3 844.1L1366.2 844.0L1368.2 844.0L1370.2 843.9L1372.2 843.9L1374.2 843.8L1376.1 843.7L1378.1 843.6L1380.1 843.5L1379.6 835.1L1377.7 835.2L1375.7 835.3L1373.8 835.4L1371.9 835.5L1369.9 835.5L1368.0 835.6L1366.0 835.6L1364.1 835.7L1362.1 835.7L1360.2 835.8L1358.2 835.8L1356.3 835.8L1354.3 835.9L1352.4 835.9L1350.4 835.9L1348.4 835.9L1346.5 835.9L1344.5 836.0L1342.6 836.0L1340.6 836.0L1338.6 836.0L1336.7 836.0L1334.7 836.1L1332.7 836.1L1330.8 836.1L1328.8 836.2ZM1409.5 840.1L1411.5 839.7L1413.5 839.3L1415.5 838.9L1417.4 838.5L1419.4 838.0L1421.4 837.5L1423.3 837.0L1425.3 836.5L1427.3 835.9L1429.2 835.4L1431.1 834.8L1433.1 834.1L1435.0 833.5L1436.9 832.8L1438.8 832.1L1440.7 831.4L1442.6 830.6L1444.5 829.8L1446.3 829.0L1448.2 828.2L1450.0 827.3L1451.9 826.5L1453.7 825.6L1455.5 824.6L1457.3 823.7L1459.1 822.7L1455.0 815.4L1453.3 816.3L1451.6 817.2L1449.9 818.1L1448.2 818.9L1446.5 819.7L1444.7 820.5L1443.0 821.3L1441.2 822.1L1439.4 822.8L1437.6 823.5L1435.8 824.2L1434.0 824.9L1432.2 825.5L1430.4 826.2L1428.6 826.8L1426.7 827.3L1424.9 827.9L1423.0 828.4L1421.2 828.9L1419.3 829.4L1417.5 829.9L1415.6 830.3L1413.7 830.7L1411.8 831.1L1409.9 831.5L1408.0 831.8Z"/>
</g>
<g shape-rendering="crispEdges">
<rect x="903" y="112" width="501" height="375" fill="#fff"/>
<g fill="#262626">
<rect x="901" y="110" width="505" height="4"/>
<rect x="901" y="485" width="505" height="5"/>
<rect x="901" y="110" width="5" height="380"/>
<rect x="1402" y="110" width="4" height="380"/>
</g>
<rect x="923" y="162" width="151" height="8" fill="#0000ff"/>
<rect x="923" y="251" width="51" height="8" fill="#ff00ff"/>
<rect x="1003" y="251" width="51" height="8" fill="#ff00ff"/>
<rect x="923" y="340" width="51" height="8" fill="#00ff00"/>
<rect x="1003" y="340" width="51" height="8" fill="#00ff00"/>
<rect x="923" y="430" width="51" height="8" fill="#ff0000"/>
<rect x="1003" y="430" width="51" height="8" fill="#ff0000"/>
</g>
<defs><clipPath id="one" clipPathUnits="userSpaceOnUse"><path d="M160 0H215V63.8H195.2V76H189V63.8H160Z"/></clipPath></defs>
<g text-rendering="geometricPrecision" stroke-linejoin="round">
<defs><filter id="crisp" filterUnits="userSpaceOnUse" x="1075" y="120" width="325" height="360" color-interpolation-filters="sRGB"><feComponentTransfer><feFuncA type="discrete" tableValues="0 1"/></feComponentTransfer></filter></defs>
<g filter="url(#crisp)">
<text transform="translate(1088.30 191.30) scale(0.5870 0.6350)" font-size="100" fill="#000" text-anchor="start" stroke="#000" stroke-width="1.5" letter-spacing="1.2">Original</text>
<text transform="translate(1088.30 280.27) scale(0.5870 0.6350)" font-size="100" fill="#000" text-anchor="start" stroke="#000" stroke-width="1.5" letter-spacing="1.2">Gauss</text>
<text transform="translate(1088.30 369.23) scale(0.5870 0.6350)" font-size="100" fill="#000" text-anchor="start" stroke="#000" stroke-width="1.5" letter-spacing="1.2">Polynomial</text>
<text transform="translate(1088.30 458.20) scale(0.5870 0.6350)" font-size="100" fill="#000" text-anchor="start" stroke="#000" stroke-width="1.5" letter-spacing="1.2">Fourier</text>
</g>
<g clip-path="url(#one)">
<text transform="translate(208.20 70.00) scale(0.6350 0.7100)" font-size="100" fill="#262626" text-anchor="end" stroke="#262626" stroke-width="0.8">1</text>
</g>
<text transform="translate(206.40 236.00) scale(0.6350 0.7100)" font-size="100" fill="#262626" text-anchor="end" stroke="#262626" stroke-width="0.8" letter-spacing="0.8">0.9</text>
<text transform="translate(206.40 401.00) scale(0.6350 0.7100)" font-size="100" fill="#262626" text-anchor="end" stroke="#262626" stroke-width="0.8" letter-spacing="0.8">0.8</text>
<text transform="translate(206.40 567.00) scale(0.6350 0.7100)" font-size="100" fill="#262626" text-anchor="end" stroke="#262626" stroke-width="0.8" letter-spacing="0.8">0.7</text>
<text transform="translate(206.40 732.00) scale(0.6350 0.7100)" font-size="100" fill="#262626" text-anchor="end" stroke="#262626" stroke-width="0.8" letter-spacing="0.8">0.6</text>
<text transform="translate(206.40 898.00) scale(0.6350 0.7100)" font-size="100" fill="#262626" text-anchor="end" stroke="#262626" stroke-width="0.8" letter-spacing="0.8">0.5</text>
<text transform="translate(206.40 1064.00) scale(0.6350 0.7100)" font-size="100" fill="#262626" text-anchor="end" stroke="#262626" stroke-width="0.8" letter-spacing="0.8">0.4</text>
<text transform="translate(236.90 1138.00) scale(0.6350 0.7100)" font-size="100" fill="#262626" text-anchor="middle" stroke="#262626" stroke-width="0.8" letter-spacing="2">400</text>
<text transform="translate(483.10 1138.00) scale(0.6350 0.7100)" font-size="100" fill="#262626" text-anchor="middle" stroke="#262626" stroke-width="0.8" letter-spacing="2">500</text>
<text transform="translate(729.30 1138.00) scale(0.6350 0.7100)" font-size="100" fill="#262626" text-anchor="middle" stroke="#262626" stroke-width="0.8" letter-spacing="2">600</text>
<text transform="translate(975.50 1138.00) scale(0.6350 0.7100)" font-size="100" fill="#262626" text-anchor="middle" stroke="#262626" stroke-width="0.8" letter-spacing="2">700</text>
<text transform="translate(1221.70 1138.00) scale(0.6350 0.7100)" font-size="100" fill="#262626" text-anchor="middle" stroke="#262626" stroke-width="0.8" letter-spacing="2">800</text>
<text transform="translate(1467.90 1138.00) scale(0.6350 0.7100)" font-size="100" fill="#262626" text-anchor="middle" stroke="#262626" stroke-width="0.8" letter-spacing="2">900</text>
<text transform="translate(590.90 1246.00) scale(0.7300 0.8100)" font-size="100" fill="#262626" text-anchor="start" stroke="#262626" stroke-width="0.8" letter-spacing="1.37">Wavelength/nm</text>
<text transform="translate(69.80 688.90) rotate(-90) scale(0.7830 0.7600)" font-size="100" fill="#262626" text-anchor="start" stroke="#262626" stroke-width="0.8" letter-spacing="1.15">Intensity</text>
</g>
</svg>
</body></html>
